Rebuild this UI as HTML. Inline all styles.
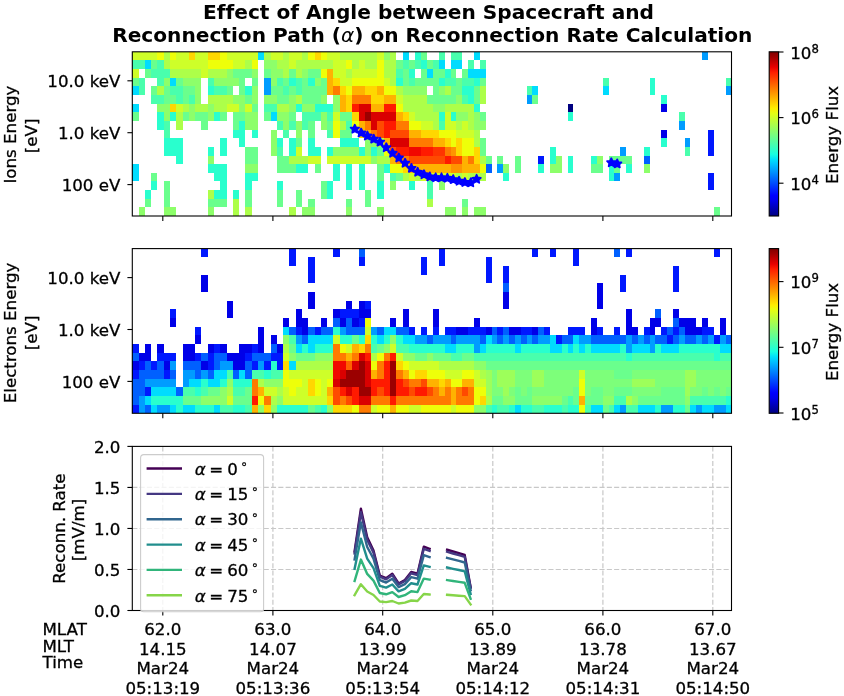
<!DOCTYPE html>
<html><head><meta charset="utf-8"><title>Reconnection Rate</title>
<style>html,body{margin:0;padding:0;background:#fff}body{width:844px;height:696px;overflow:hidden;position:relative}</style></head>
<body>
<svg width="844" height="696" viewBox="0 0 844 696" style="position:absolute;left:0;top:0">
<rect width="844" height="696" fill="#fff"/>
<text x="428.5" y="19.3" text-anchor="middle" font-family="DejaVu Sans, Liberation Sans, sans-serif" font-size="20.14" font-weight="bold" style="font-variant-ligatures:none">Effect of Angle between Spacecraft and</text>
<text x="432.3" y="42.0" text-anchor="middle" font-family="DejaVu Sans, Liberation Sans, sans-serif" font-size="20.14" font-weight="bold" style="font-variant-ligatures:none">Reconnection Path (<tspan font-weight="normal" font-style="italic">α</tspan>) on Reconnection Rate Calculation</text>
<g shape-rendering="crispEdges"><rect x="132" y="52" width="25" height="8" fill="#ceff29"/>
<rect x="157" y="52" width="7" height="8" fill="#eeff09"/>
<rect x="164" y="52" width="6" height="8" fill="#adff49"/>
<rect x="170" y="52" width="6" height="8" fill="#eeff09"/>
<rect x="176" y="52" width="13" height="8" fill="#ceff29"/>
<rect x="189" y="52" width="6" height="8" fill="#ffd700"/>
<rect x="195" y="52" width="13" height="8" fill="#ceff29"/>
<rect x="208" y="52" width="12" height="8" fill="#ffd700"/>
<rect x="220" y="52" width="7" height="8" fill="#eeff09"/>
<rect x="227" y="52" width="31" height="8" fill="#ceff29"/>
<rect x="258" y="52" width="6" height="8" fill="#00dcfe"/>
<rect x="264" y="52" width="7" height="8" fill="#adff49"/>
<rect x="271" y="52" width="12" height="8" fill="#ceff29"/>
<rect x="283" y="52" width="6" height="8" fill="#adff49"/>
<rect x="289" y="52" width="13" height="8" fill="#ceff29"/>
<rect x="302" y="52" width="6" height="8" fill="#adff49"/>
<rect x="308" y="52" width="7" height="8" fill="#eeff09"/>
<rect x="315" y="52" width="6" height="8" fill="#ffd700"/>
<rect x="321" y="52" width="6" height="8" fill="#eeff09"/>
<rect x="327" y="52" width="13" height="8" fill="#ceff29"/>
<rect x="340" y="52" width="37" height="8" fill="#adff49"/>
<rect x="377" y="52" width="7" height="8" fill="#ceff29"/>
<rect x="384" y="52" width="6" height="8" fill="#8dff6a"/>
<rect x="390" y="52" width="6" height="8" fill="#adff49"/>
<rect x="403" y="52" width="6" height="8" fill="#00dcfe"/>
<rect x="415" y="52" width="6" height="8" fill="#29ffce"/>
<rect x="421" y="52" width="6" height="8" fill="#6aff8d"/>
<rect x="439" y="52" width="6" height="8" fill="#49ffad"/>
<rect x="451" y="52" width="11" height="8" fill="#49ffad"/>
<rect x="474" y="52" width="6" height="8" fill="#00dcfe"/>
<rect x="702" y="52" width="6" height="8" fill="#009cff"/>
<rect x="132" y="60" width="13" height="9" fill="#49ffad"/>
<rect x="145" y="60" width="6" height="9" fill="#00dcfe"/>
<rect x="151" y="60" width="6" height="9" fill="#6aff8d"/>
<rect x="157" y="60" width="7" height="9" fill="#49ffad"/>
<rect x="164" y="60" width="6" height="9" fill="#adff49"/>
<rect x="170" y="60" width="38" height="9" fill="#ceff29"/>
<rect x="208" y="60" width="25" height="9" fill="#eeff09"/>
<rect x="233" y="60" width="12" height="9" fill="#ceff29"/>
<rect x="245" y="60" width="7" height="9" fill="#adff49"/>
<rect x="252" y="60" width="6" height="9" fill="#eeff09"/>
<rect x="264" y="60" width="13" height="9" fill="#8dff6a"/>
<rect x="277" y="60" width="12" height="9" fill="#adff49"/>
<rect x="289" y="60" width="7" height="9" fill="#ceff29"/>
<rect x="296" y="60" width="37" height="9" fill="#adff49"/>
<rect x="333" y="60" width="13" height="9" fill="#ceff29"/>
<rect x="346" y="60" width="6" height="9" fill="#eeff09"/>
<rect x="352" y="60" width="7" height="9" fill="#adff49"/>
<rect x="359" y="60" width="6" height="9" fill="#ceff29"/>
<rect x="365" y="60" width="12" height="9" fill="#adff49"/>
<rect x="377" y="60" width="7" height="9" fill="#eeff09"/>
<rect x="384" y="60" width="12" height="9" fill="#adff49"/>
<rect x="396" y="60" width="7" height="9" fill="#6aff8d"/>
<rect x="403" y="60" width="6" height="9" fill="#49ffad"/>
<rect x="409" y="60" width="6" height="9" fill="#6aff8d"/>
<rect x="415" y="60" width="6" height="9" fill="#49ffad"/>
<rect x="421" y="60" width="6" height="9" fill="#29ffce"/>
<rect x="427" y="60" width="6" height="9" fill="#6aff8d"/>
<rect x="433" y="60" width="6" height="9" fill="#49ffad"/>
<rect x="439" y="60" width="6" height="9" fill="#00dcfe"/>
<rect x="451" y="60" width="11" height="9" fill="#00dcfe"/>
<rect x="468" y="60" width="6" height="9" fill="#49ffad"/>
<rect x="480" y="60" width="6" height="9" fill="#49ffad"/>
<rect x="132" y="69" width="7" height="9" fill="#ceff29"/>
<rect x="145" y="69" width="6" height="9" fill="#6aff8d"/>
<rect x="151" y="69" width="19" height="9" fill="#49ffad"/>
<rect x="170" y="69" width="31" height="9" fill="#adff49"/>
<rect x="201" y="69" width="7" height="9" fill="#ceff29"/>
<rect x="208" y="69" width="19" height="9" fill="#adff49"/>
<rect x="227" y="69" width="6" height="9" fill="#8dff6a"/>
<rect x="233" y="69" width="19" height="9" fill="#6aff8d"/>
<rect x="252" y="69" width="6" height="9" fill="#8dff6a"/>
<rect x="264" y="69" width="7" height="9" fill="#6aff8d"/>
<rect x="271" y="69" width="12" height="9" fill="#8dff6a"/>
<rect x="283" y="69" width="6" height="9" fill="#adff49"/>
<rect x="289" y="69" width="7" height="9" fill="#6aff8d"/>
<rect x="296" y="69" width="6" height="9" fill="#adff49"/>
<rect x="302" y="69" width="6" height="9" fill="#8dff6a"/>
<rect x="308" y="69" width="13" height="9" fill="#6aff8d"/>
<rect x="321" y="69" width="6" height="9" fill="#eeff09"/>
<rect x="327" y="69" width="6" height="9" fill="#ffb200"/>
<rect x="333" y="69" width="13" height="9" fill="#ceff29"/>
<rect x="346" y="69" width="6" height="9" fill="#adff49"/>
<rect x="352" y="69" width="25" height="9" fill="#ceff29"/>
<rect x="377" y="69" width="7" height="9" fill="#eeff09"/>
<rect x="384" y="69" width="12" height="9" fill="#adff49"/>
<rect x="396" y="69" width="7" height="9" fill="#49ffad"/>
<rect x="403" y="69" width="6" height="9" fill="#6aff8d"/>
<rect x="409" y="69" width="6" height="9" fill="#29ffce"/>
<rect x="421" y="69" width="6" height="9" fill="#6aff8d"/>
<rect x="427" y="69" width="6" height="9" fill="#00dcfe"/>
<rect x="433" y="69" width="12" height="9" fill="#6aff8d"/>
<rect x="445" y="69" width="6" height="9" fill="#29ffce"/>
<rect x="451" y="69" width="5" height="9" fill="#6aff8d"/>
<rect x="462" y="69" width="6" height="9" fill="#6aff8d"/>
<rect x="468" y="69" width="18" height="9" fill="#00dcfe"/>
<rect x="132" y="78" width="7" height="8" fill="#6aff8d"/>
<rect x="139" y="78" width="6" height="8" fill="#49ffad"/>
<rect x="157" y="78" width="7" height="8" fill="#49ffad"/>
<rect x="164" y="78" width="6" height="8" fill="#8dff6a"/>
<rect x="170" y="78" width="6" height="8" fill="#00dcfe"/>
<rect x="176" y="78" width="7" height="8" fill="#6aff8d"/>
<rect x="183" y="78" width="18" height="8" fill="#8dff6a"/>
<rect x="208" y="78" width="6" height="8" fill="#49ffad"/>
<rect x="214" y="78" width="25" height="8" fill="#8dff6a"/>
<rect x="239" y="78" width="6" height="8" fill="#6aff8d"/>
<rect x="252" y="78" width="6" height="8" fill="#6aff8d"/>
<rect x="264" y="78" width="7" height="8" fill="#009cff"/>
<rect x="271" y="78" width="6" height="8" fill="#8dff6a"/>
<rect x="277" y="78" width="6" height="8" fill="#49ffad"/>
<rect x="283" y="78" width="6" height="8" fill="#6aff8d"/>
<rect x="289" y="78" width="7" height="8" fill="#29ffce"/>
<rect x="296" y="78" width="6" height="8" fill="#49ffad"/>
<rect x="302" y="78" width="6" height="8" fill="#6aff8d"/>
<rect x="308" y="78" width="7" height="8" fill="#29ffce"/>
<rect x="315" y="78" width="6" height="8" fill="#8dff6a"/>
<rect x="321" y="78" width="6" height="8" fill="#6aff8d"/>
<rect x="327" y="78" width="6" height="8" fill="#ffb200"/>
<rect x="333" y="78" width="7" height="8" fill="#ffd700"/>
<rect x="340" y="78" width="12" height="8" fill="#ceff29"/>
<rect x="352" y="78" width="32" height="8" fill="#eeff09"/>
<rect x="384" y="78" width="6" height="8" fill="#ceff29"/>
<rect x="390" y="78" width="6" height="8" fill="#adff49"/>
<rect x="396" y="78" width="7" height="8" fill="#29ffce"/>
<rect x="403" y="78" width="6" height="8" fill="#6aff8d"/>
<rect x="409" y="78" width="6" height="8" fill="#49ffad"/>
<rect x="415" y="78" width="24" height="8" fill="#6aff8d"/>
<rect x="439" y="78" width="6" height="8" fill="#29ffce"/>
<rect x="445" y="78" width="11" height="8" fill="#49ffad"/>
<rect x="456" y="78" width="6" height="8" fill="#6aff8d"/>
<rect x="462" y="78" width="12" height="8" fill="#49ffad"/>
<rect x="474" y="78" width="6" height="8" fill="#29ffce"/>
<rect x="480" y="78" width="6" height="8" fill="#6aff8d"/>
<rect x="603" y="78" width="6" height="8" fill="#49ffad"/>
<rect x="650" y="78" width="5" height="8" fill="#29ffce"/>
<rect x="726" y="78" width="5" height="8" fill="#49ffad"/>
<rect x="132" y="86" width="7" height="9" fill="#00dcfe"/>
<rect x="139" y="86" width="6" height="9" fill="#49ffad"/>
<rect x="151" y="86" width="6" height="9" fill="#6aff8d"/>
<rect x="157" y="86" width="7" height="9" fill="#adff49"/>
<rect x="164" y="86" width="6" height="9" fill="#6aff8d"/>
<rect x="170" y="86" width="13" height="9" fill="#49ffad"/>
<rect x="183" y="86" width="12" height="9" fill="#6aff8d"/>
<rect x="195" y="86" width="6" height="9" fill="#8dff6a"/>
<rect x="208" y="86" width="6" height="9" fill="#29ffce"/>
<rect x="214" y="86" width="13" height="9" fill="#49ffad"/>
<rect x="227" y="86" width="6" height="9" fill="#6aff8d"/>
<rect x="239" y="86" width="6" height="9" fill="#6aff8d"/>
<rect x="245" y="86" width="7" height="9" fill="#29ffce"/>
<rect x="252" y="86" width="6" height="9" fill="#8dff6a"/>
<rect x="264" y="86" width="7" height="9" fill="#009cff"/>
<rect x="271" y="86" width="12" height="9" fill="#6aff8d"/>
<rect x="283" y="86" width="6" height="9" fill="#49ffad"/>
<rect x="289" y="86" width="7" height="9" fill="#6aff8d"/>
<rect x="296" y="86" width="6" height="9" fill="#49ffad"/>
<rect x="302" y="86" width="25" height="9" fill="#6aff8d"/>
<rect x="327" y="86" width="6" height="9" fill="#ffb200"/>
<rect x="333" y="86" width="7" height="9" fill="#ff7a00"/>
<rect x="340" y="86" width="6" height="9" fill="#ffd700"/>
<rect x="346" y="86" width="6" height="9" fill="#eeff09"/>
<rect x="352" y="86" width="13" height="9" fill="#ffb200"/>
<rect x="365" y="86" width="12" height="9" fill="#ffd700"/>
<rect x="377" y="86" width="7" height="9" fill="#ffb200"/>
<rect x="384" y="86" width="12" height="9" fill="#eeff09"/>
<rect x="396" y="86" width="7" height="9" fill="#adff49"/>
<rect x="403" y="86" width="24" height="9" fill="#8dff6a"/>
<rect x="433" y="86" width="6" height="9" fill="#6aff8d"/>
<rect x="439" y="86" width="6" height="9" fill="#8dff6a"/>
<rect x="445" y="86" width="6" height="9" fill="#adff49"/>
<rect x="451" y="86" width="11" height="9" fill="#6aff8d"/>
<rect x="462" y="86" width="12" height="9" fill="#29ffce"/>
<rect x="474" y="86" width="6" height="9" fill="#6aff8d"/>
<rect x="480" y="86" width="6" height="9" fill="#adff49"/>
<rect x="527" y="86" width="5" height="9" fill="#49ffad"/>
<rect x="532" y="86" width="6" height="9" fill="#00dcfe"/>
<rect x="603" y="86" width="6" height="9" fill="#00dcfe"/>
<rect x="650" y="86" width="5" height="9" fill="#29ffce"/>
<rect x="726" y="86" width="5" height="9" fill="#009cff"/>
<rect x="151" y="95" width="13" height="9" fill="#49ffad"/>
<rect x="164" y="95" width="12" height="9" fill="#6aff8d"/>
<rect x="176" y="95" width="7" height="9" fill="#49ffad"/>
<rect x="183" y="95" width="6" height="9" fill="#6aff8d"/>
<rect x="189" y="95" width="6" height="9" fill="#49ffad"/>
<rect x="195" y="95" width="6" height="9" fill="#8dff6a"/>
<rect x="208" y="95" width="25" height="9" fill="#adff49"/>
<rect x="233" y="95" width="12" height="9" fill="#8dff6a"/>
<rect x="245" y="95" width="7" height="9" fill="#6aff8d"/>
<rect x="252" y="95" width="6" height="9" fill="#8dff6a"/>
<rect x="264" y="95" width="13" height="9" fill="#8dff6a"/>
<rect x="277" y="95" width="12" height="9" fill="#6aff8d"/>
<rect x="289" y="95" width="7" height="9" fill="#8dff6a"/>
<rect x="296" y="95" width="6" height="9" fill="#adff49"/>
<rect x="302" y="95" width="19" height="9" fill="#6aff8d"/>
<rect x="321" y="95" width="6" height="9" fill="#8dff6a"/>
<rect x="333" y="95" width="7" height="9" fill="#8dff6a"/>
<rect x="340" y="95" width="6" height="9" fill="#ffb200"/>
<rect x="346" y="95" width="6" height="9" fill="#ffd700"/>
<rect x="352" y="95" width="19" height="9" fill="#ff7a00"/>
<rect x="371" y="95" width="13" height="9" fill="#ffd700"/>
<rect x="384" y="95" width="12" height="9" fill="#ffb200"/>
<rect x="396" y="95" width="7" height="9" fill="#ceff29"/>
<rect x="403" y="95" width="24" height="9" fill="#adff49"/>
<rect x="427" y="95" width="29" height="9" fill="#6aff8d"/>
<rect x="456" y="95" width="6" height="9" fill="#8dff6a"/>
<rect x="462" y="95" width="6" height="9" fill="#49ffad"/>
<rect x="468" y="95" width="6" height="9" fill="#29ffce"/>
<rect x="474" y="95" width="6" height="9" fill="#6aff8d"/>
<rect x="480" y="95" width="6" height="9" fill="#adff49"/>
<rect x="527" y="95" width="5" height="9" fill="#009cff"/>
<rect x="532" y="95" width="6" height="9" fill="#6aff8d"/>
<rect x="661" y="95" width="6" height="9" fill="#29ffce"/>
<rect x="132" y="104" width="7" height="8" fill="#00dcfe"/>
<rect x="157" y="104" width="13" height="8" fill="#8dff6a"/>
<rect x="170" y="104" width="6" height="8" fill="#ffd700"/>
<rect x="176" y="104" width="7" height="8" fill="#ceff29"/>
<rect x="183" y="104" width="6" height="8" fill="#adff49"/>
<rect x="189" y="104" width="6" height="8" fill="#8dff6a"/>
<rect x="195" y="104" width="13" height="8" fill="#adff49"/>
<rect x="208" y="104" width="6" height="8" fill="#8dff6a"/>
<rect x="214" y="104" width="13" height="8" fill="#adff49"/>
<rect x="227" y="104" width="12" height="8" fill="#ceff29"/>
<rect x="239" y="104" width="6" height="8" fill="#8dff6a"/>
<rect x="245" y="104" width="7" height="8" fill="#ceff29"/>
<rect x="252" y="104" width="6" height="8" fill="#6aff8d"/>
<rect x="264" y="104" width="13" height="8" fill="#49ffad"/>
<rect x="277" y="104" width="12" height="8" fill="#adff49"/>
<rect x="289" y="104" width="7" height="8" fill="#8dff6a"/>
<rect x="296" y="104" width="6" height="8" fill="#29ffce"/>
<rect x="302" y="104" width="13" height="8" fill="#8dff6a"/>
<rect x="315" y="104" width="18" height="8" fill="#29ffce"/>
<rect x="333" y="104" width="7" height="8" fill="#8dff6a"/>
<rect x="340" y="104" width="6" height="8" fill="#ffb200"/>
<rect x="346" y="104" width="6" height="8" fill="#ffd700"/>
<rect x="352" y="104" width="7" height="8" fill="#ff1a00"/>
<rect x="359" y="104" width="12" height="8" fill="#da0000"/>
<rect x="371" y="104" width="13" height="8" fill="#ffb200"/>
<rect x="384" y="104" width="12" height="8" fill="#ff1a00"/>
<rect x="396" y="104" width="7" height="8" fill="#eeff09"/>
<rect x="403" y="104" width="30" height="8" fill="#adff49"/>
<rect x="433" y="104" width="12" height="8" fill="#8dff6a"/>
<rect x="445" y="104" width="29" height="8" fill="#adff49"/>
<rect x="474" y="104" width="6" height="8" fill="#29ffce"/>
<rect x="568" y="104" width="5" height="8" fill="#000080"/>
<rect x="661" y="104" width="6" height="8" fill="#0000e8"/>
<rect x="132" y="112" width="7" height="9" fill="#6aff8d"/>
<rect x="157" y="112" width="7" height="9" fill="#29ffce"/>
<rect x="164" y="112" width="6" height="9" fill="#8dff6a"/>
<rect x="170" y="112" width="6" height="9" fill="#29ffce"/>
<rect x="176" y="112" width="7" height="9" fill="#adff49"/>
<rect x="183" y="112" width="6" height="9" fill="#6aff8d"/>
<rect x="189" y="112" width="6" height="9" fill="#8dff6a"/>
<rect x="195" y="112" width="13" height="9" fill="#6aff8d"/>
<rect x="208" y="112" width="6" height="9" fill="#8dff6a"/>
<rect x="214" y="112" width="6" height="9" fill="#29ffce"/>
<rect x="220" y="112" width="7" height="9" fill="#6aff8d"/>
<rect x="233" y="112" width="12" height="9" fill="#6aff8d"/>
<rect x="245" y="112" width="13" height="9" fill="#8dff6a"/>
<rect x="264" y="112" width="7" height="9" fill="#6aff8d"/>
<rect x="271" y="112" width="6" height="9" fill="#00dcfe"/>
<rect x="277" y="112" width="12" height="9" fill="#8dff6a"/>
<rect x="289" y="112" width="7" height="9" fill="#6aff8d"/>
<rect x="302" y="112" width="19" height="9" fill="#49ffad"/>
<rect x="321" y="112" width="6" height="9" fill="#8dff6a"/>
<rect x="327" y="112" width="6" height="9" fill="#49ffad"/>
<rect x="333" y="112" width="7" height="9" fill="#ceff29"/>
<rect x="340" y="112" width="12" height="9" fill="#6aff8d"/>
<rect x="352" y="112" width="7" height="9" fill="#ffd700"/>
<rect x="359" y="112" width="6" height="9" fill="#da0000"/>
<rect x="365" y="112" width="6" height="9" fill="#9b0000"/>
<rect x="371" y="112" width="25" height="9" fill="#da0000"/>
<rect x="396" y="112" width="7" height="9" fill="#ffb200"/>
<rect x="403" y="112" width="6" height="9" fill="#ffd700"/>
<rect x="409" y="112" width="6" height="9" fill="#ceff29"/>
<rect x="415" y="112" width="24" height="9" fill="#adff49"/>
<rect x="439" y="112" width="6" height="9" fill="#29ffce"/>
<rect x="445" y="112" width="6" height="9" fill="#ceff29"/>
<rect x="451" y="112" width="5" height="9" fill="#29ffce"/>
<rect x="456" y="112" width="12" height="9" fill="#8dff6a"/>
<rect x="468" y="112" width="6" height="9" fill="#adff49"/>
<rect x="474" y="112" width="6" height="9" fill="#8dff6a"/>
<rect x="480" y="112" width="6" height="9" fill="#6aff8d"/>
<rect x="568" y="112" width="5" height="9" fill="#29ffce"/>
<rect x="679" y="112" width="6" height="9" fill="#49ffad"/>
<rect x="157" y="121" width="7" height="9" fill="#29ffce"/>
<rect x="164" y="121" width="6" height="9" fill="#49ffad"/>
<rect x="176" y="121" width="7" height="9" fill="#adff49"/>
<rect x="201" y="121" width="7" height="9" fill="#6aff8d"/>
<rect x="233" y="121" width="6" height="9" fill="#6aff8d"/>
<rect x="239" y="121" width="6" height="9" fill="#29ffce"/>
<rect x="245" y="121" width="13" height="9" fill="#8dff6a"/>
<rect x="277" y="121" width="6" height="9" fill="#49ffad"/>
<rect x="283" y="121" width="6" height="9" fill="#8dff6a"/>
<rect x="289" y="121" width="7" height="9" fill="#49ffad"/>
<rect x="296" y="121" width="6" height="9" fill="#8dff6a"/>
<rect x="302" y="121" width="6" height="9" fill="#49ffad"/>
<rect x="308" y="121" width="7" height="9" fill="#6aff8d"/>
<rect x="321" y="121" width="6" height="9" fill="#8dff6a"/>
<rect x="327" y="121" width="6" height="9" fill="#6aff8d"/>
<rect x="333" y="121" width="7" height="9" fill="#eeff09"/>
<rect x="340" y="121" width="6" height="9" fill="#adff49"/>
<rect x="346" y="121" width="6" height="9" fill="#49ffad"/>
<rect x="352" y="121" width="7" height="9" fill="#eeff09"/>
<rect x="359" y="121" width="6" height="9" fill="#ffb200"/>
<rect x="365" y="121" width="6" height="9" fill="#ff7a00"/>
<rect x="371" y="121" width="6" height="9" fill="#da0000"/>
<rect x="377" y="121" width="7" height="9" fill="#ff4a00"/>
<rect x="384" y="121" width="12" height="9" fill="#ff1a00"/>
<rect x="396" y="121" width="13" height="9" fill="#ff7a00"/>
<rect x="409" y="121" width="12" height="9" fill="#eeff09"/>
<rect x="421" y="121" width="12" height="9" fill="#ceff29"/>
<rect x="433" y="121" width="6" height="9" fill="#adff49"/>
<rect x="439" y="121" width="6" height="9" fill="#49ffad"/>
<rect x="445" y="121" width="11" height="9" fill="#ceff29"/>
<rect x="456" y="121" width="6" height="9" fill="#adff49"/>
<rect x="462" y="121" width="6" height="9" fill="#ceff29"/>
<rect x="468" y="121" width="6" height="9" fill="#adff49"/>
<rect x="474" y="121" width="12" height="9" fill="#8dff6a"/>
<rect x="679" y="121" width="6" height="9" fill="#009cff"/>
<rect x="164" y="130" width="6" height="8" fill="#49ffad"/>
<rect x="233" y="130" width="12" height="8" fill="#29ffce"/>
<rect x="252" y="130" width="6" height="8" fill="#29ffce"/>
<rect x="271" y="130" width="6" height="8" fill="#8dff6a"/>
<rect x="283" y="130" width="6" height="8" fill="#49ffad"/>
<rect x="296" y="130" width="6" height="8" fill="#8dff6a"/>
<rect x="308" y="130" width="7" height="8" fill="#6aff8d"/>
<rect x="327" y="130" width="6" height="8" fill="#49ffad"/>
<rect x="333" y="130" width="7" height="8" fill="#eeff09"/>
<rect x="340" y="130" width="12" height="8" fill="#6aff8d"/>
<rect x="359" y="130" width="6" height="8" fill="#ffd700"/>
<rect x="365" y="130" width="6" height="8" fill="#ffb200"/>
<rect x="371" y="130" width="6" height="8" fill="#ff7a00"/>
<rect x="377" y="130" width="7" height="8" fill="#ff4a00"/>
<rect x="384" y="130" width="6" height="8" fill="#ff1a00"/>
<rect x="390" y="130" width="19" height="8" fill="#ff4a00"/>
<rect x="409" y="130" width="12" height="8" fill="#ffb200"/>
<rect x="421" y="130" width="18" height="8" fill="#ffd700"/>
<rect x="439" y="130" width="17" height="8" fill="#eeff09"/>
<rect x="456" y="130" width="18" height="8" fill="#ceff29"/>
<rect x="474" y="130" width="6" height="8" fill="#adff49"/>
<rect x="661" y="130" width="6" height="8" fill="#0000e8"/>
<rect x="708" y="130" width="6" height="8" fill="#0018ff"/>
<rect x="164" y="138" width="19" height="9" fill="#29ffce"/>
<rect x="220" y="138" width="7" height="9" fill="#29ffce"/>
<rect x="239" y="138" width="6" height="9" fill="#29ffce"/>
<rect x="271" y="138" width="6" height="9" fill="#8dff6a"/>
<rect x="277" y="138" width="6" height="9" fill="#29ffce"/>
<rect x="289" y="138" width="7" height="9" fill="#29ffce"/>
<rect x="296" y="138" width="6" height="9" fill="#6aff8d"/>
<rect x="308" y="138" width="7" height="9" fill="#29ffce"/>
<rect x="340" y="138" width="19" height="9" fill="#29ffce"/>
<rect x="365" y="138" width="12" height="9" fill="#8dff6a"/>
<rect x="377" y="138" width="7" height="9" fill="#adff49"/>
<rect x="384" y="138" width="6" height="9" fill="#ffb200"/>
<rect x="390" y="138" width="19" height="9" fill="#da0000"/>
<rect x="409" y="138" width="24" height="9" fill="#ff7a00"/>
<rect x="433" y="138" width="12" height="9" fill="#ffb200"/>
<rect x="445" y="138" width="6" height="9" fill="#ffd700"/>
<rect x="451" y="138" width="5" height="9" fill="#eeff09"/>
<rect x="456" y="138" width="6" height="9" fill="#ffd700"/>
<rect x="462" y="138" width="12" height="9" fill="#eeff09"/>
<rect x="474" y="138" width="6" height="9" fill="#adff49"/>
<rect x="480" y="138" width="6" height="9" fill="#6aff8d"/>
<rect x="661" y="138" width="6" height="9" fill="#29ffce"/>
<rect x="685" y="138" width="5" height="9" fill="#009cff"/>
<rect x="708" y="138" width="6" height="9" fill="#0018ff"/>
<rect x="164" y="147" width="19" height="9" fill="#29ffce"/>
<rect x="208" y="147" width="6" height="9" fill="#29ffce"/>
<rect x="220" y="147" width="7" height="9" fill="#29ffce"/>
<rect x="245" y="147" width="13" height="9" fill="#6aff8d"/>
<rect x="271" y="147" width="6" height="9" fill="#8dff6a"/>
<rect x="277" y="147" width="6" height="9" fill="#49ffad"/>
<rect x="289" y="147" width="7" height="9" fill="#29ffce"/>
<rect x="296" y="147" width="6" height="9" fill="#ceff29"/>
<rect x="308" y="147" width="13" height="9" fill="#29ffce"/>
<rect x="327" y="147" width="6" height="9" fill="#29ffce"/>
<rect x="333" y="147" width="26" height="9" fill="#8dff6a"/>
<rect x="359" y="147" width="6" height="9" fill="#29ffce"/>
<rect x="365" y="147" width="6" height="9" fill="#8dff6a"/>
<rect x="371" y="147" width="6" height="9" fill="#29ffce"/>
<rect x="377" y="147" width="7" height="9" fill="#6aff8d"/>
<rect x="384" y="147" width="6" height="9" fill="#eeff09"/>
<rect x="390" y="147" width="6" height="9" fill="#ff4a00"/>
<rect x="396" y="147" width="13" height="9" fill="#ff1a00"/>
<rect x="409" y="147" width="12" height="9" fill="#f10800"/>
<rect x="421" y="147" width="12" height="9" fill="#ff1a00"/>
<rect x="433" y="147" width="12" height="9" fill="#ff3400"/>
<rect x="445" y="147" width="6" height="9" fill="#ff7a00"/>
<rect x="451" y="147" width="5" height="9" fill="#ff9400"/>
<rect x="456" y="147" width="6" height="9" fill="#ffd700"/>
<rect x="462" y="147" width="12" height="9" fill="#eeff09"/>
<rect x="474" y="147" width="6" height="9" fill="#ffd700"/>
<rect x="480" y="147" width="6" height="9" fill="#6aff8d"/>
<rect x="550" y="147" width="6" height="9" fill="#29ffce"/>
<rect x="620" y="147" width="6" height="9" fill="#009cff"/>
<rect x="644" y="147" width="6" height="9" fill="#29ffce"/>
<rect x="685" y="147" width="5" height="9" fill="#49ffad"/>
<rect x="708" y="147" width="6" height="9" fill="#0018ff"/>
<rect x="176" y="156" width="7" height="8" fill="#29ffce"/>
<rect x="208" y="156" width="6" height="8" fill="#8dff6a"/>
<rect x="245" y="156" width="13" height="8" fill="#6aff8d"/>
<rect x="277" y="156" width="12" height="8" fill="#6aff8d"/>
<rect x="289" y="156" width="19" height="8" fill="#adff49"/>
<rect x="308" y="156" width="13" height="8" fill="#ceff29"/>
<rect x="327" y="156" width="44" height="8" fill="#ceff29"/>
<rect x="371" y="156" width="6" height="8" fill="#8dff6a"/>
<rect x="377" y="156" width="13" height="8" fill="#adff49"/>
<rect x="390" y="156" width="6" height="8" fill="#ffb200"/>
<rect x="396" y="156" width="13" height="8" fill="#ff7a00"/>
<rect x="409" y="156" width="36" height="8" fill="#ff4a00"/>
<rect x="445" y="156" width="6" height="8" fill="#ff1a00"/>
<rect x="451" y="156" width="11" height="8" fill="#ff4a00"/>
<rect x="462" y="156" width="6" height="8" fill="#ffb200"/>
<rect x="468" y="156" width="6" height="8" fill="#ff7a00"/>
<rect x="474" y="156" width="6" height="8" fill="#ffd700"/>
<rect x="480" y="156" width="6" height="8" fill="#adff49"/>
<rect x="486" y="156" width="6" height="8" fill="#6aff8d"/>
<rect x="497" y="156" width="6" height="8" fill="#6aff8d"/>
<rect x="515" y="156" width="6" height="8" fill="#6aff8d"/>
<rect x="538" y="156" width="6" height="8" fill="#0018ff"/>
<rect x="550" y="156" width="6" height="8" fill="#29ffce"/>
<rect x="556" y="156" width="6" height="8" fill="#8dff6a"/>
<rect x="568" y="156" width="5" height="8" fill="#29ffce"/>
<rect x="591" y="156" width="6" height="8" fill="#29ffce"/>
<rect x="597" y="156" width="6" height="8" fill="#8dff6a"/>
<rect x="609" y="156" width="23" height="8" fill="#6aff8d"/>
<rect x="644" y="156" width="6" height="8" fill="#0060ff"/>
<rect x="132" y="164" width="7" height="9" fill="#00dcfe"/>
<rect x="208" y="164" width="19" height="9" fill="#29ffce"/>
<rect x="245" y="164" width="13" height="9" fill="#8dff6a"/>
<rect x="277" y="164" width="19" height="9" fill="#6aff8d"/>
<rect x="296" y="164" width="12" height="9" fill="#29ffce"/>
<rect x="315" y="164" width="6" height="9" fill="#6aff8d"/>
<rect x="333" y="164" width="7" height="9" fill="#29ffce"/>
<rect x="346" y="164" width="6" height="9" fill="#29ffce"/>
<rect x="359" y="164" width="6" height="9" fill="#29ffce"/>
<rect x="377" y="164" width="7" height="9" fill="#6aff8d"/>
<rect x="384" y="164" width="6" height="9" fill="#29ffce"/>
<rect x="390" y="164" width="13" height="9" fill="#eeff09"/>
<rect x="403" y="164" width="6" height="9" fill="#ffd700"/>
<rect x="409" y="164" width="42" height="9" fill="#ffb200"/>
<rect x="451" y="164" width="11" height="9" fill="#ff9400"/>
<rect x="462" y="164" width="18" height="9" fill="#ffb200"/>
<rect x="480" y="164" width="6" height="9" fill="#eeff09"/>
<rect x="486" y="164" width="6" height="9" fill="#0060ff"/>
<rect x="497" y="164" width="6" height="9" fill="#009cff"/>
<rect x="503" y="164" width="6" height="9" fill="#8dff6a"/>
<rect x="515" y="164" width="6" height="9" fill="#6aff8d"/>
<rect x="538" y="164" width="6" height="9" fill="#29ffce"/>
<rect x="550" y="164" width="12" height="9" fill="#8dff6a"/>
<rect x="568" y="164" width="5" height="9" fill="#29ffce"/>
<rect x="591" y="164" width="12" height="9" fill="#6aff8d"/>
<rect x="609" y="164" width="5" height="9" fill="#29ffce"/>
<rect x="614" y="164" width="6" height="9" fill="#6aff8d"/>
<rect x="626" y="164" width="6" height="9" fill="#29ffce"/>
<rect x="644" y="164" width="6" height="9" fill="#8dff6a"/>
<rect x="132" y="173" width="7" height="8" fill="#00dcfe"/>
<rect x="151" y="173" width="6" height="8" fill="#6aff8d"/>
<rect x="214" y="173" width="13" height="8" fill="#29ffce"/>
<rect x="245" y="173" width="13" height="8" fill="#29ffce"/>
<rect x="333" y="173" width="7" height="8" fill="#29ffce"/>
<rect x="346" y="173" width="6" height="8" fill="#29ffce"/>
<rect x="359" y="173" width="6" height="8" fill="#29ffce"/>
<rect x="377" y="173" width="7" height="8" fill="#6aff8d"/>
<rect x="390" y="173" width="6" height="8" fill="#49ffad"/>
<rect x="396" y="173" width="7" height="8" fill="#6aff8d"/>
<rect x="403" y="173" width="6" height="8" fill="#adff49"/>
<rect x="409" y="173" width="6" height="8" fill="#ceff29"/>
<rect x="415" y="173" width="6" height="8" fill="#adff49"/>
<rect x="421" y="173" width="35" height="8" fill="#ceff29"/>
<rect x="456" y="173" width="6" height="8" fill="#adff49"/>
<rect x="462" y="173" width="6" height="8" fill="#ceff29"/>
<rect x="468" y="173" width="18" height="8" fill="#adff49"/>
<rect x="503" y="173" width="6" height="8" fill="#29ffce"/>
<rect x="609" y="173" width="5" height="8" fill="#29ffce"/>
<rect x="614" y="173" width="6" height="8" fill="#009cff"/>
<rect x="708" y="173" width="6" height="8" fill="#0018ff"/>
<rect x="151" y="181" width="6" height="9" fill="#29ffce"/>
<rect x="164" y="181" width="6" height="9" fill="#6aff8d"/>
<rect x="220" y="181" width="7" height="9" fill="#29ffce"/>
<rect x="245" y="181" width="7" height="9" fill="#29ffce"/>
<rect x="277" y="181" width="6" height="9" fill="#29ffce"/>
<rect x="321" y="181" width="6" height="9" fill="#6aff8d"/>
<rect x="327" y="181" width="6" height="9" fill="#29ffce"/>
<rect x="346" y="181" width="6" height="9" fill="#29ffce"/>
<rect x="359" y="181" width="6" height="9" fill="#29ffce"/>
<rect x="377" y="181" width="7" height="9" fill="#29ffce"/>
<rect x="390" y="181" width="6" height="9" fill="#8dff6a"/>
<rect x="409" y="181" width="6" height="9" fill="#29ffce"/>
<rect x="427" y="181" width="6" height="9" fill="#49ffad"/>
<rect x="439" y="181" width="6" height="9" fill="#8dff6a"/>
<rect x="708" y="181" width="6" height="9" fill="#0018ff"/>
<rect x="145" y="190" width="6" height="9" fill="#29ffce"/>
<rect x="164" y="190" width="6" height="9" fill="#6aff8d"/>
<rect x="208" y="190" width="6" height="9" fill="#adff49"/>
<rect x="214" y="190" width="13" height="9" fill="#29ffce"/>
<rect x="233" y="190" width="6" height="9" fill="#29ffce"/>
<rect x="245" y="190" width="7" height="9" fill="#6aff8d"/>
<rect x="277" y="190" width="6" height="9" fill="#6aff8d"/>
<rect x="296" y="190" width="6" height="9" fill="#6aff8d"/>
<rect x="321" y="190" width="6" height="9" fill="#6aff8d"/>
<rect x="327" y="190" width="6" height="9" fill="#29ffce"/>
<rect x="365" y="190" width="6" height="9" fill="#6aff8d"/>
<rect x="377" y="190" width="7" height="9" fill="#29ffce"/>
<rect x="427" y="190" width="6" height="9" fill="#49ffad"/>
<rect x="145" y="199" width="6" height="8" fill="#6aff8d"/>
<rect x="164" y="199" width="6" height="8" fill="#6aff8d"/>
<rect x="208" y="199" width="19" height="8" fill="#6aff8d"/>
<rect x="233" y="199" width="6" height="8" fill="#adff49"/>
<rect x="245" y="199" width="7" height="8" fill="#6aff8d"/>
<rect x="277" y="199" width="6" height="8" fill="#6aff8d"/>
<rect x="296" y="199" width="6" height="8" fill="#6aff8d"/>
<rect x="308" y="199" width="7" height="8" fill="#6aff8d"/>
<rect x="346" y="199" width="6" height="8" fill="#6aff8d"/>
<rect x="365" y="199" width="6" height="8" fill="#6aff8d"/>
<rect x="427" y="199" width="6" height="8" fill="#adff49"/>
<rect x="462" y="199" width="6" height="8" fill="#6aff8d"/>
<rect x="139" y="207" width="6" height="9" fill="#8dff6a"/>
<rect x="164" y="207" width="12" height="9" fill="#8dff6a"/>
<rect x="208" y="207" width="6" height="9" fill="#8dff6a"/>
<rect x="233" y="207" width="6" height="9" fill="#adff49"/>
<rect x="245" y="207" width="7" height="9" fill="#adff49"/>
<rect x="289" y="207" width="7" height="9" fill="#adff49"/>
<rect x="302" y="207" width="13" height="9" fill="#8dff6a"/>
<rect x="346" y="207" width="6" height="9" fill="#8dff6a"/>
<rect x="377" y="207" width="7" height="9" fill="#8dff6a"/>
<rect x="445" y="207" width="11" height="9" fill="#8dff6a"/>
<rect x="462" y="207" width="6" height="9" fill="#8dff6a"/>
<rect x="474" y="207" width="12" height="9" fill="#8dff6a"/>
<rect x="714" y="207" width="6" height="9" fill="#6aff8d"/></g>
<path d="M354.8 124.7L356.1 127.3L359.0 127.7L356.8 129.7L357.4 132.6L354.8 131.2L352.3 132.6L352.8 129.7L350.7 127.7L353.6 127.3Z M361.1 128.5L362.4 131.2L365.3 131.5L363.1 133.6L363.7 136.5L361.1 135.0L358.5 136.5L359.1 133.6L356.9 131.5L359.9 131.2Z M367.4 131.5L368.6 134.2L371.6 134.6L369.4 136.6L370.0 139.5L367.4 138.1L364.8 139.5L365.4 136.6L363.2 134.6L366.2 134.2Z M373.7 134.6L374.9 137.3L377.9 137.6L375.7 139.7L376.3 142.6L373.7 141.1L371.1 142.6L371.7 139.7L369.5 137.6L372.4 137.3Z M380.0 137.6L381.2 140.3L384.2 140.6L382.0 142.7L382.6 145.6L380.0 144.1L377.4 145.6L378.0 142.7L375.8 140.6L378.7 140.3Z M386.3 143.2L387.5 145.9L390.4 146.2L388.3 148.3L388.8 151.2L386.3 149.7L383.7 151.2L384.2 148.3L382.1 146.2L385.0 145.9Z M392.5 148.8L393.8 151.5L396.7 151.8L394.5 153.9L395.1 156.8L392.5 155.3L390.0 156.8L390.5 153.9L388.4 151.8L391.3 151.5Z M398.8 153.5L400.1 156.2L403.0 156.5L400.8 158.6L401.4 161.5L398.8 160.0L396.2 161.5L396.8 158.6L394.6 156.5L397.6 156.2Z M405.1 158.7L406.3 161.4L409.3 161.7L407.1 163.8L407.7 166.7L405.1 165.2L402.5 166.7L403.1 163.8L400.9 161.7L403.9 161.4Z M411.4 163.9L412.6 166.6L415.6 166.9L413.4 169.0L414.0 171.9L411.4 170.4L408.8 171.9L409.4 169.0L407.2 166.9L410.1 166.6Z M417.7 167.8L418.9 170.5L421.9 170.8L419.7 172.9L420.3 175.8L417.7 174.3L415.1 175.8L415.7 172.9L413.5 170.8L416.4 170.5Z M424.0 170.2L425.2 172.9L428.1 173.3L426.0 175.3L426.5 178.2L424.0 176.8L421.4 178.2L421.9 175.3L419.8 173.3L422.7 172.9Z M429.8 172.4L431.0 175.1L434.0 175.4L431.8 177.5L432.4 180.4L429.8 178.9L427.2 180.4L427.8 177.5L425.6 175.4L428.6 175.1Z M435.7 173.3L436.9 176.0L439.8 176.3L437.7 178.4L438.2 181.3L435.7 179.8L433.1 181.3L433.6 178.4L431.5 176.3L434.4 176.0Z M441.5 173.3L442.7 176.0L445.7 176.4L443.5 178.4L444.1 181.3L441.5 179.9L438.9 181.3L439.5 178.4L437.3 176.4L440.3 176.0Z M447.4 173.8L448.6 176.5L451.5 176.8L449.4 178.9L449.9 181.8L447.4 180.3L444.8 181.8L445.3 178.9L443.2 176.8L446.1 176.5Z M453.2 175.1L454.4 177.8L457.4 178.1L455.2 180.2L455.8 183.1L453.2 181.6L450.6 183.1L451.2 180.2L449.0 178.1L452.0 177.8Z M459.1 176.7L460.3 179.4L463.2 179.7L461.1 181.8L461.6 184.7L459.1 183.2L456.5 184.7L457.0 181.8L454.9 179.7L457.8 179.4Z M464.9 178.0L466.1 180.7L469.1 181.0L466.9 183.1L467.5 186.0L464.9 184.5L462.3 186.0L462.9 183.1L460.7 181.0L463.7 180.7Z M470.8 178.3L472.0 181.0L474.9 181.4L472.8 183.4L473.3 186.3L470.8 184.9L468.2 186.3L468.7 183.4L466.6 181.4L469.5 181.0Z M476.6 174.8L477.8 177.5L480.8 177.8L478.6 179.9L479.2 182.8L476.6 181.3L474.0 182.8L474.6 179.9L472.4 177.8L475.4 177.5Z M611.3 158.2L612.5 160.9L615.5 161.2L613.3 163.3L613.9 166.2L611.3 164.7L608.7 166.2L609.3 163.3L607.1 161.2L610.1 160.9Z M617.2 159.4L618.4 162.1L621.4 162.4L619.2 164.5L619.8 167.4L617.2 165.9L614.6 167.4L615.2 164.5L613.0 162.4L616.0 162.1Z" fill="#0000ff" stroke="#0000ff" stroke-width="1.8" stroke-linejoin="round"/>
<rect x="132.3" y="51.8" width="599.2" height="164.2" fill="none" stroke="#000" stroke-width="1.1"/>
<line x1="162.8" x2="162.8" y1="216.0" y2="220.9" stroke="#000" stroke-width="1.1"/><line x1="272.9" x2="272.9" y1="216.0" y2="220.9" stroke="#000" stroke-width="1.1"/><line x1="382.7" x2="382.7" y1="216.0" y2="220.9" stroke="#000" stroke-width="1.1"/><line x1="492.8" x2="492.8" y1="216.0" y2="220.9" stroke="#000" stroke-width="1.1"/><line x1="602.9" x2="602.9" y1="216.0" y2="220.9" stroke="#000" stroke-width="1.1"/><line x1="712.8" x2="712.8" y1="216.0" y2="220.9" stroke="#000" stroke-width="1.1"/>
<line x1="127.4" x2="132.3" y1="80.8" y2="80.8" stroke="#000" stroke-width="1.1"/><text x="120.4" y="87.3" text-anchor="end" font-family="DejaVu Sans, Liberation Sans, sans-serif" stroke="#000" stroke-width="0.3" font-size="16.67">10.0 keV</text><line x1="127.4" x2="132.3" y1="132.7" y2="132.7" stroke="#000" stroke-width="1.1"/><text x="120.4" y="139.2" text-anchor="end" font-family="DejaVu Sans, Liberation Sans, sans-serif" stroke="#000" stroke-width="0.3" font-size="16.67">1.0 keV</text><line x1="127.4" x2="132.3" y1="184.6" y2="184.6" stroke="#000" stroke-width="1.1"/><text x="120.4" y="191.1" text-anchor="end" font-family="DejaVu Sans, Liberation Sans, sans-serif" stroke="#000" stroke-width="0.3" font-size="16.67">100 eV</text>
<text transform="translate(15.6,134.6) rotate(-90)" text-anchor="middle" font-family="DejaVu Sans, Liberation Sans, sans-serif" stroke="#000" stroke-width="0.3" font-size="16.67">Ions Energy</text><text transform="translate(37.2,135.9) rotate(-90)" text-anchor="middle" font-family="DejaVu Sans, Liberation Sans, sans-serif" stroke="#000" stroke-width="0.3" font-size="16.67">[eV]</text>
<defs><linearGradient id="jet1" x1="0" y1="0" x2="0" y2="1"><stop offset="0.0000" stop-color="#800000"/><stop offset="0.0312" stop-color="#9f0000"/><stop offset="0.0625" stop-color="#c40000"/><stop offset="0.0938" stop-color="#e80000"/><stop offset="0.1250" stop-color="#ff1e00"/><stop offset="0.1562" stop-color="#ff3b00"/><stop offset="0.1875" stop-color="#ff5900"/><stop offset="0.2188" stop-color="#ff7700"/><stop offset="0.2500" stop-color="#ff9400"/><stop offset="0.2812" stop-color="#ffb200"/><stop offset="0.3125" stop-color="#ffd000"/><stop offset="0.3438" stop-color="#feed00"/><stop offset="0.3750" stop-color="#e4ff13"/><stop offset="0.4062" stop-color="#caff2c"/><stop offset="0.4375" stop-color="#b1ff46"/><stop offset="0.4688" stop-color="#97ff60"/><stop offset="0.5000" stop-color="#7dff7a"/><stop offset="0.5312" stop-color="#63ff94"/><stop offset="0.5625" stop-color="#49ffad"/><stop offset="0.5938" stop-color="#30ffc7"/><stop offset="0.6250" stop-color="#16ffe1"/><stop offset="0.6562" stop-color="#00e0fb"/><stop offset="0.6875" stop-color="#00c0ff"/><stop offset="0.7188" stop-color="#00a0ff"/><stop offset="0.7500" stop-color="#0080ff"/><stop offset="0.7812" stop-color="#0060ff"/><stop offset="0.8125" stop-color="#0040ff"/><stop offset="0.8438" stop-color="#0020ff"/><stop offset="0.8750" stop-color="#0000ff"/><stop offset="0.9062" stop-color="#0000ed"/><stop offset="0.9375" stop-color="#0000c8"/><stop offset="0.9688" stop-color="#0000a4"/><stop offset="1.0000" stop-color="#000080"/></linearGradient></defs><rect x="769.2" y="51.8" width="9.4" height="164.2" fill="url(#jet1)" stroke="#000" stroke-width="1.1"/><line x1="778.6" x2="783.5" y1="52.0" y2="52.0" stroke="#000" stroke-width="1.1"/><text x="790.2" y="58.7" font-family="DejaVu Sans, Liberation Sans, sans-serif" stroke="#000" stroke-width="0.3" font-size="16.67">10<tspan dy="-5.9" font-size="11.67">8</tspan></text><line x1="778.6" x2="783.5" y1="117.6" y2="117.6" stroke="#000" stroke-width="1.1"/><text x="790.2" y="124.3" font-family="DejaVu Sans, Liberation Sans, sans-serif" stroke="#000" stroke-width="0.3" font-size="16.67">10<tspan dy="-5.9" font-size="11.67">6</tspan></text><line x1="778.6" x2="783.5" y1="183.2" y2="183.2" stroke="#000" stroke-width="1.1"/><text x="790.2" y="189.89999999999998" font-family="DejaVu Sans, Liberation Sans, sans-serif" stroke="#000" stroke-width="0.3" font-size="16.67">10<tspan dy="-5.9" font-size="11.67">4</tspan></text><text transform="translate(838,134.9) rotate(-90)" text-anchor="middle" font-family="DejaVu Sans, Liberation Sans, sans-serif" stroke="#000" stroke-width="0.3" font-size="16.67">Energy Flux</text>
<g shape-rendering="crispEdges"><rect x="201" y="249" width="7" height="8" fill="#0018ff"/>
<rect x="289" y="249" width="7" height="8" fill="#0018ff"/>
<rect x="333" y="249" width="7" height="8" fill="#0018ff"/>
<rect x="359" y="249" width="6" height="8" fill="#0060ff"/>
<rect x="439" y="249" width="6" height="8" fill="#0018ff"/>
<rect x="532" y="249" width="6" height="8" fill="#0018ff"/>
<rect x="550" y="249" width="6" height="8" fill="#0018ff"/>
<rect x="573" y="249" width="6" height="8" fill="#0018ff"/>
<rect x="614" y="249" width="6" height="8" fill="#0060ff"/>
<rect x="626" y="249" width="6" height="8" fill="#0018ff"/>
<rect x="714" y="249" width="6" height="8" fill="#0018ff"/>
<rect x="289" y="257" width="7" height="9" fill="#0018ff"/>
<rect x="308" y="257" width="7" height="9" fill="#0018ff"/>
<rect x="359" y="257" width="6" height="9" fill="#0018ff"/>
<rect x="421" y="257" width="6" height="9" fill="#0018ff"/>
<rect x="439" y="257" width="6" height="9" fill="#0018ff"/>
<rect x="486" y="257" width="6" height="9" fill="#0018ff"/>
<rect x="573" y="257" width="6" height="9" fill="#0018ff"/>
<rect x="308" y="266" width="7" height="9" fill="#0018ff"/>
<rect x="421" y="266" width="6" height="9" fill="#0018ff"/>
<rect x="486" y="266" width="6" height="9" fill="#0018ff"/>
<rect x="503" y="266" width="6" height="9" fill="#0018ff"/>
<rect x="673" y="266" width="6" height="9" fill="#0018ff"/>
<rect x="201" y="275" width="7" height="8" fill="#0000e8"/>
<rect x="308" y="275" width="7" height="8" fill="#0018ff"/>
<rect x="486" y="275" width="6" height="8" fill="#0018ff"/>
<rect x="503" y="275" width="6" height="8" fill="#0018ff"/>
<rect x="620" y="275" width="6" height="8" fill="#0018ff"/>
<rect x="673" y="275" width="6" height="8" fill="#0018ff"/>
<rect x="201" y="283" width="7" height="9" fill="#0000e8"/>
<rect x="503" y="283" width="6" height="9" fill="#0060ff"/>
<rect x="597" y="283" width="6" height="9" fill="#0000e8"/>
<rect x="620" y="283" width="6" height="9" fill="#0018ff"/>
<rect x="673" y="283" width="6" height="9" fill="#0018ff"/>
<rect x="308" y="292" width="7" height="9" fill="#0000e8"/>
<rect x="503" y="292" width="6" height="9" fill="#0000e8"/>
<rect x="597" y="292" width="6" height="9" fill="#0000e8"/>
<rect x="227" y="301" width="6" height="8" fill="#0000e8"/>
<rect x="308" y="301" width="7" height="8" fill="#0000e8"/>
<rect x="346" y="301" width="6" height="8" fill="#0000e8"/>
<rect x="359" y="301" width="6" height="8" fill="#0000e8"/>
<rect x="365" y="301" width="6" height="8" fill="#0018ff"/>
<rect x="503" y="301" width="6" height="8" fill="#0000e8"/>
<rect x="597" y="301" width="6" height="8" fill="#0000e8"/>
<rect x="170" y="309" width="6" height="9" fill="#0018ff"/>
<rect x="227" y="309" width="6" height="9" fill="#0000e8"/>
<rect x="296" y="309" width="6" height="9" fill="#0000e8"/>
<rect x="333" y="309" width="7" height="9" fill="#0000e8"/>
<rect x="340" y="309" width="19" height="9" fill="#0018ff"/>
<rect x="359" y="309" width="12" height="9" fill="#0000e8"/>
<rect x="403" y="309" width="6" height="9" fill="#0000e8"/>
<rect x="433" y="309" width="6" height="9" fill="#0000e8"/>
<rect x="626" y="309" width="6" height="9" fill="#0000e8"/>
<rect x="655" y="309" width="6" height="9" fill="#0060ff"/>
<rect x="673" y="309" width="6" height="9" fill="#0000e8"/>
<rect x="170" y="318" width="6" height="9" fill="#0000e8"/>
<rect x="283" y="318" width="6" height="9" fill="#0000e8"/>
<rect x="296" y="318" width="12" height="9" fill="#0000e8"/>
<rect x="321" y="318" width="6" height="9" fill="#0000e8"/>
<rect x="333" y="318" width="7" height="9" fill="#0060ff"/>
<rect x="340" y="318" width="6" height="9" fill="#0000e8"/>
<rect x="346" y="318" width="6" height="9" fill="#0060ff"/>
<rect x="352" y="318" width="7" height="9" fill="#0000e8"/>
<rect x="359" y="318" width="6" height="9" fill="#0018ff"/>
<rect x="365" y="318" width="6" height="9" fill="#eeff09"/>
<rect x="390" y="318" width="6" height="9" fill="#0000e8"/>
<rect x="403" y="318" width="6" height="9" fill="#0000e8"/>
<rect x="433" y="318" width="6" height="9" fill="#0000e8"/>
<rect x="474" y="318" width="6" height="9" fill="#0000e8"/>
<rect x="591" y="318" width="6" height="9" fill="#0000e8"/>
<rect x="626" y="318" width="6" height="9" fill="#0000e8"/>
<rect x="650" y="318" width="11" height="9" fill="#0000e8"/>
<rect x="673" y="318" width="6" height="9" fill="#0060ff"/>
<rect x="679" y="318" width="17" height="9" fill="#0000e8"/>
<rect x="702" y="318" width="6" height="9" fill="#0000e8"/>
<rect x="720" y="318" width="6" height="9" fill="#0000e8"/>
<rect x="195" y="327" width="6" height="8" fill="#0018ff"/>
<rect x="258" y="327" width="6" height="8" fill="#0000e8"/>
<rect x="283" y="327" width="6" height="8" fill="#00dcfe"/>
<rect x="289" y="327" width="7" height="8" fill="#0060ff"/>
<rect x="296" y="327" width="6" height="8" fill="#0018ff"/>
<rect x="302" y="327" width="6" height="8" fill="#0000e8"/>
<rect x="308" y="327" width="7" height="8" fill="#0060ff"/>
<rect x="315" y="327" width="6" height="8" fill="#0018ff"/>
<rect x="321" y="327" width="12" height="8" fill="#0060ff"/>
<rect x="333" y="327" width="7" height="8" fill="#29ffce"/>
<rect x="340" y="327" width="6" height="8" fill="#009cff"/>
<rect x="346" y="327" width="19" height="8" fill="#0060ff"/>
<rect x="365" y="327" width="6" height="8" fill="#ceff29"/>
<rect x="371" y="327" width="6" height="8" fill="#009cff"/>
<rect x="377" y="327" width="7" height="8" fill="#0060ff"/>
<rect x="384" y="327" width="12" height="8" fill="#00dcfe"/>
<rect x="396" y="327" width="13" height="8" fill="#0060ff"/>
<rect x="409" y="327" width="6" height="8" fill="#0018ff"/>
<rect x="421" y="327" width="6" height="8" fill="#0018ff"/>
<rect x="433" y="327" width="6" height="8" fill="#0018ff"/>
<rect x="445" y="327" width="11" height="8" fill="#0018ff"/>
<rect x="456" y="327" width="12" height="8" fill="#0000e8"/>
<rect x="468" y="327" width="18" height="8" fill="#0018ff"/>
<rect x="486" y="327" width="6" height="8" fill="#0000e8"/>
<rect x="492" y="327" width="5" height="8" fill="#0060ff"/>
<rect x="497" y="327" width="6" height="8" fill="#0018ff"/>
<rect x="503" y="327" width="6" height="8" fill="#0060ff"/>
<rect x="509" y="327" width="12" height="8" fill="#0000e8"/>
<rect x="521" y="327" width="11" height="8" fill="#0018ff"/>
<rect x="532" y="327" width="6" height="8" fill="#0000e8"/>
<rect x="538" y="327" width="6" height="8" fill="#0060ff"/>
<rect x="544" y="327" width="6" height="8" fill="#0018ff"/>
<rect x="568" y="327" width="17" height="8" fill="#0018ff"/>
<rect x="591" y="327" width="6" height="8" fill="#0000e8"/>
<rect x="597" y="327" width="6" height="8" fill="#0018ff"/>
<rect x="614" y="327" width="6" height="8" fill="#0018ff"/>
<rect x="626" y="327" width="12" height="8" fill="#0000e8"/>
<rect x="644" y="327" width="6" height="8" fill="#0018ff"/>
<rect x="650" y="327" width="5" height="8" fill="#0000e8"/>
<rect x="661" y="327" width="6" height="8" fill="#0018ff"/>
<rect x="667" y="327" width="6" height="8" fill="#0060ff"/>
<rect x="673" y="327" width="6" height="8" fill="#0018ff"/>
<rect x="679" y="327" width="6" height="8" fill="#0060ff"/>
<rect x="685" y="327" width="17" height="8" fill="#0000e8"/>
<rect x="702" y="327" width="12" height="8" fill="#0018ff"/>
<rect x="720" y="327" width="6" height="8" fill="#0000e8"/>
<rect x="195" y="335" width="6" height="9" fill="#0000e8"/>
<rect x="258" y="335" width="6" height="9" fill="#0000e8"/>
<rect x="271" y="335" width="6" height="9" fill="#0000e8"/>
<rect x="283" y="335" width="6" height="9" fill="#8dff6a"/>
<rect x="289" y="335" width="7" height="9" fill="#49ffad"/>
<rect x="296" y="335" width="6" height="9" fill="#009cff"/>
<rect x="302" y="335" width="6" height="9" fill="#0060ff"/>
<rect x="308" y="335" width="25" height="9" fill="#00dcfe"/>
<rect x="333" y="335" width="7" height="9" fill="#ceff29"/>
<rect x="340" y="335" width="12" height="9" fill="#29ffce"/>
<rect x="352" y="335" width="7" height="9" fill="#6aff8d"/>
<rect x="359" y="335" width="6" height="9" fill="#29ffce"/>
<rect x="365" y="335" width="6" height="9" fill="#ffd700"/>
<rect x="371" y="335" width="6" height="9" fill="#29ffce"/>
<rect x="377" y="335" width="7" height="9" fill="#00dcfe"/>
<rect x="384" y="335" width="6" height="9" fill="#29ffce"/>
<rect x="390" y="335" width="6" height="9" fill="#8dff6a"/>
<rect x="396" y="335" width="7" height="9" fill="#29ffce"/>
<rect x="403" y="335" width="12" height="9" fill="#00dcfe"/>
<rect x="415" y="335" width="12" height="9" fill="#009cff"/>
<rect x="427" y="335" width="6" height="9" fill="#0060ff"/>
<rect x="433" y="335" width="18" height="9" fill="#009cff"/>
<rect x="451" y="335" width="5" height="9" fill="#0060ff"/>
<rect x="456" y="335" width="24" height="9" fill="#009cff"/>
<rect x="480" y="335" width="6" height="9" fill="#0060ff"/>
<rect x="486" y="335" width="6" height="9" fill="#00dcfe"/>
<rect x="492" y="335" width="5" height="9" fill="#009cff"/>
<rect x="497" y="335" width="6" height="9" fill="#0060ff"/>
<rect x="503" y="335" width="6" height="9" fill="#009cff"/>
<rect x="509" y="335" width="6" height="9" fill="#0060ff"/>
<rect x="515" y="335" width="6" height="9" fill="#009cff"/>
<rect x="521" y="335" width="6" height="9" fill="#0060ff"/>
<rect x="527" y="335" width="5" height="9" fill="#009cff"/>
<rect x="532" y="335" width="6" height="9" fill="#0060ff"/>
<rect x="538" y="335" width="12" height="9" fill="#009cff"/>
<rect x="550" y="335" width="6" height="9" fill="#00dcfe"/>
<rect x="556" y="335" width="6" height="9" fill="#0018ff"/>
<rect x="562" y="335" width="11" height="9" fill="#0060ff"/>
<rect x="573" y="335" width="6" height="9" fill="#00dcfe"/>
<rect x="579" y="335" width="12" height="9" fill="#009cff"/>
<rect x="591" y="335" width="35" height="9" fill="#0060ff"/>
<rect x="626" y="335" width="6" height="9" fill="#009cff"/>
<rect x="632" y="335" width="6" height="9" fill="#0060ff"/>
<rect x="638" y="335" width="6" height="9" fill="#009cff"/>
<rect x="644" y="335" width="6" height="9" fill="#0060ff"/>
<rect x="650" y="335" width="5" height="9" fill="#009cff"/>
<rect x="655" y="335" width="12" height="9" fill="#0060ff"/>
<rect x="667" y="335" width="6" height="9" fill="#0018ff"/>
<rect x="673" y="335" width="6" height="9" fill="#0060ff"/>
<rect x="679" y="335" width="6" height="9" fill="#009cff"/>
<rect x="685" y="335" width="11" height="9" fill="#0060ff"/>
<rect x="696" y="335" width="6" height="9" fill="#009cff"/>
<rect x="702" y="335" width="6" height="9" fill="#0060ff"/>
<rect x="708" y="335" width="6" height="9" fill="#009cff"/>
<rect x="714" y="335" width="6" height="9" fill="#0018ff"/>
<rect x="720" y="335" width="6" height="9" fill="#009cff"/>
<rect x="726" y="335" width="5" height="9" fill="#0060ff"/>
<rect x="132" y="344" width="7" height="9" fill="#0018ff"/>
<rect x="145" y="344" width="6" height="9" fill="#0000e8"/>
<rect x="157" y="344" width="7" height="9" fill="#0000e8"/>
<rect x="183" y="344" width="12" height="9" fill="#0000e8"/>
<rect x="208" y="344" width="6" height="9" fill="#0000e8"/>
<rect x="214" y="344" width="6" height="9" fill="#0018ff"/>
<rect x="220" y="344" width="7" height="9" fill="#0000e8"/>
<rect x="239" y="344" width="13" height="9" fill="#0000e8"/>
<rect x="252" y="344" width="6" height="9" fill="#0018ff"/>
<rect x="258" y="344" width="6" height="9" fill="#0000e8"/>
<rect x="271" y="344" width="6" height="9" fill="#0060ff"/>
<rect x="277" y="344" width="6" height="9" fill="#0000e8"/>
<rect x="283" y="344" width="6" height="9" fill="#adff49"/>
<rect x="289" y="344" width="7" height="9" fill="#6aff8d"/>
<rect x="296" y="344" width="6" height="9" fill="#00dcfe"/>
<rect x="302" y="344" width="6" height="9" fill="#29ffce"/>
<rect x="308" y="344" width="7" height="9" fill="#00dcfe"/>
<rect x="315" y="344" width="18" height="9" fill="#29ffce"/>
<rect x="333" y="344" width="7" height="9" fill="#ff7a00"/>
<rect x="340" y="344" width="6" height="9" fill="#eeff09"/>
<rect x="346" y="344" width="6" height="9" fill="#ceff29"/>
<rect x="352" y="344" width="7" height="9" fill="#ffb200"/>
<rect x="359" y="344" width="6" height="9" fill="#ffd700"/>
<rect x="365" y="344" width="6" height="9" fill="#ff7a00"/>
<rect x="371" y="344" width="6" height="9" fill="#49ffad"/>
<rect x="377" y="344" width="7" height="9" fill="#6aff8d"/>
<rect x="384" y="344" width="6" height="9" fill="#8dff6a"/>
<rect x="390" y="344" width="6" height="9" fill="#ceff29"/>
<rect x="396" y="344" width="13" height="9" fill="#49ffad"/>
<rect x="409" y="344" width="36" height="9" fill="#29ffce"/>
<rect x="445" y="344" width="11" height="9" fill="#00dcfe"/>
<rect x="456" y="344" width="18" height="9" fill="#29ffce"/>
<rect x="474" y="344" width="6" height="9" fill="#009cff"/>
<rect x="480" y="344" width="6" height="9" fill="#00dcfe"/>
<rect x="486" y="344" width="29" height="9" fill="#29ffce"/>
<rect x="515" y="344" width="6" height="9" fill="#00dcfe"/>
<rect x="521" y="344" width="29" height="9" fill="#29ffce"/>
<rect x="550" y="344" width="12" height="9" fill="#00dcfe"/>
<rect x="562" y="344" width="6" height="9" fill="#29ffce"/>
<rect x="568" y="344" width="5" height="9" fill="#00dcfe"/>
<rect x="573" y="344" width="6" height="9" fill="#29ffce"/>
<rect x="579" y="344" width="6" height="9" fill="#00dcfe"/>
<rect x="585" y="344" width="6" height="9" fill="#29ffce"/>
<rect x="591" y="344" width="29" height="9" fill="#00dcfe"/>
<rect x="620" y="344" width="6" height="9" fill="#29ffce"/>
<rect x="626" y="344" width="6" height="9" fill="#009cff"/>
<rect x="632" y="344" width="18" height="9" fill="#00dcfe"/>
<rect x="650" y="344" width="5" height="9" fill="#009cff"/>
<rect x="655" y="344" width="6" height="9" fill="#29ffce"/>
<rect x="661" y="344" width="18" height="9" fill="#00dcfe"/>
<rect x="679" y="344" width="41" height="9" fill="#29ffce"/>
<rect x="720" y="344" width="11" height="9" fill="#00dcfe"/>
<rect x="132" y="353" width="7" height="8" fill="#0060ff"/>
<rect x="139" y="353" width="12" height="8" fill="#0000e8"/>
<rect x="157" y="353" width="19" height="8" fill="#0018ff"/>
<rect x="183" y="353" width="12" height="8" fill="#0000e8"/>
<rect x="195" y="353" width="6" height="8" fill="#0018ff"/>
<rect x="201" y="353" width="7" height="8" fill="#0060ff"/>
<rect x="208" y="353" width="6" height="8" fill="#0018ff"/>
<rect x="214" y="353" width="13" height="8" fill="#0060ff"/>
<rect x="227" y="353" width="18" height="8" fill="#0000e8"/>
<rect x="245" y="353" width="7" height="8" fill="#0018ff"/>
<rect x="252" y="353" width="19" height="8" fill="#0060ff"/>
<rect x="271" y="353" width="12" height="8" fill="#0018ff"/>
<rect x="283" y="353" width="6" height="8" fill="#ceff29"/>
<rect x="289" y="353" width="7" height="8" fill="#8dff6a"/>
<rect x="296" y="353" width="19" height="8" fill="#6aff8d"/>
<rect x="315" y="353" width="18" height="8" fill="#8dff6a"/>
<rect x="333" y="353" width="13" height="8" fill="#ff7a00"/>
<rect x="346" y="353" width="6" height="8" fill="#ffb200"/>
<rect x="352" y="353" width="7" height="8" fill="#ff7a00"/>
<rect x="359" y="353" width="6" height="8" fill="#da0000"/>
<rect x="365" y="353" width="6" height="8" fill="#ff1a00"/>
<rect x="371" y="353" width="6" height="8" fill="#adff49"/>
<rect x="377" y="353" width="7" height="8" fill="#eeff09"/>
<rect x="384" y="353" width="6" height="8" fill="#ff7a00"/>
<rect x="390" y="353" width="6" height="8" fill="#ff1a00"/>
<rect x="396" y="353" width="7" height="8" fill="#ceff29"/>
<rect x="403" y="353" width="12" height="8" fill="#8dff6a"/>
<rect x="415" y="353" width="12" height="8" fill="#6aff8d"/>
<rect x="427" y="353" width="6" height="8" fill="#8dff6a"/>
<rect x="433" y="353" width="18" height="8" fill="#6aff8d"/>
<rect x="451" y="353" width="11" height="8" fill="#49ffad"/>
<rect x="462" y="353" width="12" height="8" fill="#6aff8d"/>
<rect x="474" y="353" width="152" height="8" fill="#49ffad"/>
<rect x="626" y="353" width="6" height="8" fill="#29ffce"/>
<rect x="632" y="353" width="82" height="8" fill="#49ffad"/>
<rect x="714" y="353" width="6" height="8" fill="#29ffce"/>
<rect x="720" y="353" width="11" height="8" fill="#49ffad"/>
<rect x="132" y="361" width="7" height="9" fill="#0000e8"/>
<rect x="139" y="361" width="6" height="9" fill="#0018ff"/>
<rect x="145" y="361" width="6" height="9" fill="#0060ff"/>
<rect x="151" y="361" width="6" height="9" fill="#0018ff"/>
<rect x="157" y="361" width="7" height="9" fill="#0060ff"/>
<rect x="164" y="361" width="6" height="9" fill="#0000e8"/>
<rect x="170" y="361" width="6" height="9" fill="#009cff"/>
<rect x="183" y="361" width="18" height="9" fill="#0060ff"/>
<rect x="201" y="361" width="7" height="9" fill="#0000e8"/>
<rect x="208" y="361" width="6" height="9" fill="#0018ff"/>
<rect x="214" y="361" width="6" height="9" fill="#0060ff"/>
<rect x="220" y="361" width="13" height="9" fill="#009cff"/>
<rect x="233" y="361" width="12" height="9" fill="#0000e8"/>
<rect x="245" y="361" width="7" height="9" fill="#0060ff"/>
<rect x="252" y="361" width="6" height="9" fill="#0018ff"/>
<rect x="258" y="361" width="6" height="9" fill="#009cff"/>
<rect x="264" y="361" width="7" height="9" fill="#0018ff"/>
<rect x="271" y="361" width="6" height="9" fill="#29ffce"/>
<rect x="277" y="361" width="6" height="9" fill="#0018ff"/>
<rect x="283" y="361" width="6" height="9" fill="#ffd700"/>
<rect x="289" y="361" width="7" height="9" fill="#00dcfe"/>
<rect x="296" y="361" width="37" height="9" fill="#adff49"/>
<rect x="333" y="361" width="13" height="9" fill="#f10800"/>
<rect x="346" y="361" width="6" height="9" fill="#ff6000"/>
<rect x="352" y="361" width="7" height="9" fill="#da0000"/>
<rect x="359" y="361" width="6" height="9" fill="#9b0000"/>
<rect x="365" y="361" width="6" height="9" fill="#da0000"/>
<rect x="371" y="361" width="6" height="9" fill="#eeff09"/>
<rect x="377" y="361" width="7" height="9" fill="#ff7a00"/>
<rect x="384" y="361" width="6" height="9" fill="#ff1a00"/>
<rect x="390" y="361" width="6" height="9" fill="#9b0000"/>
<rect x="396" y="361" width="7" height="9" fill="#ffd700"/>
<rect x="403" y="361" width="6" height="9" fill="#eeff09"/>
<rect x="409" y="361" width="30" height="9" fill="#ceff29"/>
<rect x="439" y="361" width="35" height="9" fill="#adff49"/>
<rect x="474" y="361" width="12" height="9" fill="#8dff6a"/>
<rect x="486" y="361" width="245" height="9" fill="#6aff8d"/>
<rect x="132" y="370" width="7" height="9" fill="#0018ff"/>
<rect x="139" y="370" width="25" height="9" fill="#0060ff"/>
<rect x="164" y="370" width="6" height="9" fill="#0018ff"/>
<rect x="170" y="370" width="6" height="9" fill="#0060ff"/>
<rect x="183" y="370" width="12" height="9" fill="#009cff"/>
<rect x="195" y="370" width="6" height="9" fill="#0060ff"/>
<rect x="201" y="370" width="7" height="9" fill="#009cff"/>
<rect x="208" y="370" width="6" height="9" fill="#0060ff"/>
<rect x="214" y="370" width="13" height="9" fill="#00dcfe"/>
<rect x="227" y="370" width="6" height="9" fill="#49ffad"/>
<rect x="233" y="370" width="6" height="9" fill="#0060ff"/>
<rect x="239" y="370" width="6" height="9" fill="#00dcfe"/>
<rect x="245" y="370" width="7" height="9" fill="#0060ff"/>
<rect x="252" y="370" width="12" height="9" fill="#49ffad"/>
<rect x="264" y="370" width="7" height="9" fill="#29ffce"/>
<rect x="271" y="370" width="12" height="9" fill="#49ffad"/>
<rect x="283" y="370" width="6" height="9" fill="#eeff09"/>
<rect x="289" y="370" width="44" height="9" fill="#ceff29"/>
<rect x="333" y="370" width="7" height="9" fill="#f10800"/>
<rect x="340" y="370" width="6" height="9" fill="#da0000"/>
<rect x="346" y="370" width="19" height="9" fill="#9b0000"/>
<rect x="365" y="370" width="6" height="9" fill="#da0000"/>
<rect x="371" y="370" width="6" height="9" fill="#ffb200"/>
<rect x="377" y="370" width="7" height="9" fill="#ff7a00"/>
<rect x="384" y="370" width="6" height="9" fill="#ff1a00"/>
<rect x="390" y="370" width="6" height="9" fill="#9b0000"/>
<rect x="396" y="370" width="7" height="9" fill="#ff7a00"/>
<rect x="403" y="370" width="6" height="9" fill="#ffb200"/>
<rect x="409" y="370" width="6" height="9" fill="#eeff09"/>
<rect x="415" y="370" width="12" height="9" fill="#ffd700"/>
<rect x="427" y="370" width="18" height="9" fill="#eeff09"/>
<rect x="445" y="370" width="17" height="9" fill="#ceff29"/>
<rect x="462" y="370" width="12" height="9" fill="#eeff09"/>
<rect x="474" y="370" width="6" height="9" fill="#ceff29"/>
<rect x="480" y="370" width="6" height="9" fill="#adff49"/>
<rect x="486" y="370" width="6" height="9" fill="#9dff5a"/>
<rect x="492" y="370" width="5" height="9" fill="#7dff7a"/>
<rect x="497" y="370" width="18" height="9" fill="#9dff5a"/>
<rect x="515" y="370" width="17" height="9" fill="#7dff7a"/>
<rect x="532" y="370" width="12" height="9" fill="#9dff5a"/>
<rect x="544" y="370" width="35" height="9" fill="#7dff7a"/>
<rect x="579" y="370" width="6" height="9" fill="#ceff29"/>
<rect x="585" y="370" width="29" height="9" fill="#7dff7a"/>
<rect x="614" y="370" width="18" height="9" fill="#6aff8d"/>
<rect x="632" y="370" width="53" height="9" fill="#7dff7a"/>
<rect x="685" y="370" width="11" height="9" fill="#9dff5a"/>
<rect x="696" y="370" width="35" height="9" fill="#7dff7a"/>
<rect x="132" y="379" width="13" height="8" fill="#0060ff"/>
<rect x="145" y="379" width="31" height="8" fill="#009cff"/>
<rect x="183" y="379" width="6" height="8" fill="#009cff"/>
<rect x="189" y="379" width="12" height="8" fill="#00dcfe"/>
<rect x="201" y="379" width="7" height="8" fill="#29ffce"/>
<rect x="208" y="379" width="12" height="8" fill="#00dcfe"/>
<rect x="220" y="379" width="7" height="8" fill="#29ffce"/>
<rect x="227" y="379" width="6" height="8" fill="#8dff6a"/>
<rect x="233" y="379" width="19" height="8" fill="#29ffce"/>
<rect x="252" y="379" width="6" height="8" fill="#ff7a00"/>
<rect x="258" y="379" width="6" height="8" fill="#adff49"/>
<rect x="264" y="379" width="19" height="8" fill="#8dff6a"/>
<rect x="283" y="379" width="19" height="8" fill="#eeff09"/>
<rect x="302" y="379" width="6" height="8" fill="#ceff29"/>
<rect x="308" y="379" width="7" height="8" fill="#ffd700"/>
<rect x="315" y="379" width="6" height="8" fill="#eeff09"/>
<rect x="321" y="379" width="6" height="8" fill="#ceff29"/>
<rect x="327" y="379" width="6" height="8" fill="#eeff09"/>
<rect x="333" y="379" width="7" height="8" fill="#da0000"/>
<rect x="340" y="379" width="25" height="8" fill="#9b0000"/>
<rect x="365" y="379" width="6" height="8" fill="#da0000"/>
<rect x="371" y="379" width="19" height="8" fill="#ff1a00"/>
<rect x="390" y="379" width="6" height="8" fill="#9b0000"/>
<rect x="396" y="379" width="7" height="8" fill="#ff1a00"/>
<rect x="403" y="379" width="6" height="8" fill="#ff4a00"/>
<rect x="409" y="379" width="12" height="8" fill="#ff7a00"/>
<rect x="421" y="379" width="6" height="8" fill="#ff4a00"/>
<rect x="427" y="379" width="12" height="8" fill="#ffb200"/>
<rect x="439" y="379" width="6" height="8" fill="#ffd700"/>
<rect x="445" y="379" width="6" height="8" fill="#ffb200"/>
<rect x="451" y="379" width="11" height="8" fill="#eeff09"/>
<rect x="462" y="379" width="12" height="8" fill="#ffb200"/>
<rect x="474" y="379" width="12" height="8" fill="#ceff29"/>
<rect x="486" y="379" width="6" height="8" fill="#9dff5a"/>
<rect x="492" y="379" width="5" height="8" fill="#7dff7a"/>
<rect x="497" y="379" width="18" height="8" fill="#9dff5a"/>
<rect x="515" y="379" width="17" height="8" fill="#7dff7a"/>
<rect x="532" y="379" width="12" height="8" fill="#9dff5a"/>
<rect x="544" y="379" width="35" height="8" fill="#7dff7a"/>
<rect x="579" y="379" width="6" height="8" fill="#eeff09"/>
<rect x="585" y="379" width="47" height="8" fill="#7dff7a"/>
<rect x="632" y="379" width="23" height="8" fill="#9dff5a"/>
<rect x="655" y="379" width="30" height="8" fill="#7dff7a"/>
<rect x="685" y="379" width="11" height="8" fill="#9dff5a"/>
<rect x="696" y="379" width="35" height="8" fill="#7dff7a"/>
<rect x="132" y="387" width="13" height="9" fill="#0060ff"/>
<rect x="145" y="387" width="6" height="9" fill="#0018ff"/>
<rect x="151" y="387" width="25" height="9" fill="#00dcfe"/>
<rect x="176" y="387" width="7" height="9" fill="#0060ff"/>
<rect x="183" y="387" width="12" height="9" fill="#49ffad"/>
<rect x="195" y="387" width="6" height="9" fill="#29ffce"/>
<rect x="201" y="387" width="7" height="9" fill="#49ffad"/>
<rect x="208" y="387" width="12" height="9" fill="#6aff8d"/>
<rect x="220" y="387" width="7" height="9" fill="#8dff6a"/>
<rect x="227" y="387" width="6" height="9" fill="#adff49"/>
<rect x="233" y="387" width="12" height="9" fill="#49ffad"/>
<rect x="245" y="387" width="7" height="9" fill="#6aff8d"/>
<rect x="252" y="387" width="6" height="9" fill="#ff7a00"/>
<rect x="258" y="387" width="6" height="9" fill="#ffb200"/>
<rect x="264" y="387" width="13" height="9" fill="#ceff29"/>
<rect x="277" y="387" width="6" height="9" fill="#adff49"/>
<rect x="283" y="387" width="6" height="9" fill="#ceff29"/>
<rect x="289" y="387" width="7" height="9" fill="#eeff09"/>
<rect x="296" y="387" width="12" height="9" fill="#ceff29"/>
<rect x="308" y="387" width="7" height="9" fill="#ffd700"/>
<rect x="315" y="387" width="6" height="9" fill="#eeff09"/>
<rect x="321" y="387" width="6" height="9" fill="#ceff29"/>
<rect x="327" y="387" width="6" height="9" fill="#ffb200"/>
<rect x="333" y="387" width="7" height="9" fill="#ff4a00"/>
<rect x="340" y="387" width="6" height="9" fill="#ff1a00"/>
<rect x="346" y="387" width="6" height="9" fill="#da0000"/>
<rect x="352" y="387" width="7" height="9" fill="#ff1a00"/>
<rect x="359" y="387" width="12" height="9" fill="#9b0000"/>
<rect x="371" y="387" width="6" height="9" fill="#ff1a00"/>
<rect x="377" y="387" width="7" height="9" fill="#ff4a00"/>
<rect x="384" y="387" width="6" height="9" fill="#ff1a00"/>
<rect x="390" y="387" width="6" height="9" fill="#9b0000"/>
<rect x="396" y="387" width="13" height="9" fill="#ff1a00"/>
<rect x="409" y="387" width="6" height="9" fill="#ff4a00"/>
<rect x="415" y="387" width="12" height="9" fill="#ff1a00"/>
<rect x="427" y="387" width="6" height="9" fill="#ff4a00"/>
<rect x="433" y="387" width="6" height="9" fill="#ff7a00"/>
<rect x="439" y="387" width="6" height="9" fill="#ffb200"/>
<rect x="445" y="387" width="6" height="9" fill="#ff7a00"/>
<rect x="451" y="387" width="5" height="9" fill="#ffb200"/>
<rect x="456" y="387" width="6" height="9" fill="#ff7a00"/>
<rect x="462" y="387" width="6" height="9" fill="#ff4a00"/>
<rect x="468" y="387" width="6" height="9" fill="#ff7a00"/>
<rect x="474" y="387" width="12" height="9" fill="#eeff09"/>
<rect x="486" y="387" width="6" height="9" fill="#9dff5a"/>
<rect x="492" y="387" width="11" height="9" fill="#7dff7a"/>
<rect x="503" y="387" width="6" height="9" fill="#9dff5a"/>
<rect x="509" y="387" width="6" height="9" fill="#7dff7a"/>
<rect x="515" y="387" width="6" height="9" fill="#6aff8d"/>
<rect x="521" y="387" width="6" height="9" fill="#7dff7a"/>
<rect x="527" y="387" width="5" height="9" fill="#6aff8d"/>
<rect x="532" y="387" width="41" height="9" fill="#7dff7a"/>
<rect x="573" y="387" width="6" height="9" fill="#6aff8d"/>
<rect x="579" y="387" width="6" height="9" fill="#eeff09"/>
<rect x="585" y="387" width="6" height="9" fill="#7dff7a"/>
<rect x="591" y="387" width="12" height="9" fill="#6aff8d"/>
<rect x="603" y="387" width="11" height="9" fill="#7dff7a"/>
<rect x="614" y="387" width="18" height="9" fill="#6aff8d"/>
<rect x="632" y="387" width="29" height="9" fill="#7dff7a"/>
<rect x="661" y="387" width="24" height="9" fill="#6aff8d"/>
<rect x="685" y="387" width="5" height="9" fill="#9dff5a"/>
<rect x="690" y="387" width="12" height="9" fill="#7dff7a"/>
<rect x="702" y="387" width="6" height="9" fill="#6aff8d"/>
<rect x="708" y="387" width="6" height="9" fill="#7dff7a"/>
<rect x="714" y="387" width="6" height="9" fill="#6aff8d"/>
<rect x="720" y="387" width="6" height="9" fill="#7dff7a"/>
<rect x="726" y="387" width="5" height="9" fill="#6aff8d"/>
<rect x="132" y="396" width="7" height="9" fill="#0060ff"/>
<rect x="139" y="396" width="6" height="9" fill="#009cff"/>
<rect x="145" y="396" width="6" height="9" fill="#00dcfe"/>
<rect x="151" y="396" width="32" height="9" fill="#29ffce"/>
<rect x="183" y="396" width="18" height="9" fill="#6aff8d"/>
<rect x="201" y="396" width="26" height="9" fill="#8dff6a"/>
<rect x="227" y="396" width="6" height="9" fill="#ceff29"/>
<rect x="233" y="396" width="19" height="9" fill="#6aff8d"/>
<rect x="252" y="396" width="6" height="9" fill="#ff1a00"/>
<rect x="258" y="396" width="6" height="9" fill="#eeff09"/>
<rect x="264" y="396" width="7" height="9" fill="#ff7a00"/>
<rect x="271" y="396" width="6" height="9" fill="#adff49"/>
<rect x="277" y="396" width="6" height="9" fill="#8dff6a"/>
<rect x="283" y="396" width="44" height="9" fill="#ceff29"/>
<rect x="327" y="396" width="6" height="9" fill="#ffd700"/>
<rect x="333" y="396" width="7" height="9" fill="#ff4a00"/>
<rect x="340" y="396" width="6" height="9" fill="#ff7a00"/>
<rect x="346" y="396" width="6" height="9" fill="#ff4a00"/>
<rect x="352" y="396" width="7" height="9" fill="#ff1a00"/>
<rect x="359" y="396" width="12" height="9" fill="#da0000"/>
<rect x="371" y="396" width="19" height="9" fill="#ff7a00"/>
<rect x="390" y="396" width="6" height="9" fill="#ff1a00"/>
<rect x="396" y="396" width="55" height="9" fill="#ff7a00"/>
<rect x="451" y="396" width="5" height="9" fill="#ffb200"/>
<rect x="456" y="396" width="18" height="9" fill="#ff7a00"/>
<rect x="474" y="396" width="6" height="9" fill="#eeff09"/>
<rect x="480" y="396" width="6" height="9" fill="#ffd700"/>
<rect x="486" y="396" width="6" height="9" fill="#adff49"/>
<rect x="492" y="396" width="11" height="9" fill="#6aff8d"/>
<rect x="503" y="396" width="12" height="9" fill="#8dff6a"/>
<rect x="515" y="396" width="17" height="9" fill="#6aff8d"/>
<rect x="532" y="396" width="30" height="9" fill="#8dff6a"/>
<rect x="562" y="396" width="6" height="9" fill="#6aff8d"/>
<rect x="568" y="396" width="5" height="9" fill="#49ffad"/>
<rect x="573" y="396" width="6" height="9" fill="#6aff8d"/>
<rect x="579" y="396" width="6" height="9" fill="#ffb200"/>
<rect x="585" y="396" width="18" height="9" fill="#6aff8d"/>
<rect x="603" y="396" width="11" height="9" fill="#8dff6a"/>
<rect x="614" y="396" width="12" height="9" fill="#49ffad"/>
<rect x="626" y="396" width="6" height="9" fill="#adff49"/>
<rect x="632" y="396" width="6" height="9" fill="#8dff6a"/>
<rect x="638" y="396" width="47" height="9" fill="#6aff8d"/>
<rect x="685" y="396" width="5" height="9" fill="#8dff6a"/>
<rect x="690" y="396" width="36" height="9" fill="#49ffad"/>
<rect x="726" y="396" width="5" height="9" fill="#29ffce"/>
<rect x="132" y="405" width="7" height="8" fill="#0018ff"/>
<rect x="139" y="405" width="6" height="8" fill="#009cff"/>
<rect x="145" y="405" width="6" height="8" fill="#0060ff"/>
<rect x="151" y="405" width="6" height="8" fill="#00dcfe"/>
<rect x="157" y="405" width="13" height="8" fill="#009cff"/>
<rect x="170" y="405" width="6" height="8" fill="#00dcfe"/>
<rect x="176" y="405" width="7" height="8" fill="#29ffce"/>
<rect x="183" y="405" width="12" height="8" fill="#00dcfe"/>
<rect x="195" y="405" width="19" height="8" fill="#29ffce"/>
<rect x="214" y="405" width="6" height="8" fill="#00dcfe"/>
<rect x="220" y="405" width="13" height="8" fill="#49ffad"/>
<rect x="233" y="405" width="12" height="8" fill="#29ffce"/>
<rect x="245" y="405" width="7" height="8" fill="#49ffad"/>
<rect x="252" y="405" width="6" height="8" fill="#ffb200"/>
<rect x="258" y="405" width="6" height="8" fill="#8dff6a"/>
<rect x="264" y="405" width="7" height="8" fill="#ffd700"/>
<rect x="271" y="405" width="6" height="8" fill="#8dff6a"/>
<rect x="277" y="405" width="31" height="8" fill="#29ffce"/>
<rect x="308" y="405" width="7" height="8" fill="#6aff8d"/>
<rect x="315" y="405" width="6" height="8" fill="#49ffad"/>
<rect x="321" y="405" width="6" height="8" fill="#29ffce"/>
<rect x="327" y="405" width="6" height="8" fill="#8dff6a"/>
<rect x="333" y="405" width="19" height="8" fill="#ffd700"/>
<rect x="352" y="405" width="7" height="8" fill="#eeff09"/>
<rect x="359" y="405" width="12" height="8" fill="#ff7a00"/>
<rect x="371" y="405" width="6" height="8" fill="#ceff29"/>
<rect x="377" y="405" width="13" height="8" fill="#eeff09"/>
<rect x="390" y="405" width="6" height="8" fill="#ffb200"/>
<rect x="396" y="405" width="13" height="8" fill="#eeff09"/>
<rect x="409" y="405" width="12" height="8" fill="#ceff29"/>
<rect x="421" y="405" width="30" height="8" fill="#eeff09"/>
<rect x="451" y="405" width="5" height="8" fill="#ceff29"/>
<rect x="456" y="405" width="18" height="8" fill="#eeff09"/>
<rect x="474" y="405" width="12" height="8" fill="#8dff6a"/>
<rect x="486" y="405" width="6" height="8" fill="#49ffad"/>
<rect x="492" y="405" width="5" height="8" fill="#29ffce"/>
<rect x="497" y="405" width="12" height="8" fill="#49ffad"/>
<rect x="509" y="405" width="6" height="8" fill="#29ffce"/>
<rect x="515" y="405" width="6" height="8" fill="#00dcfe"/>
<rect x="521" y="405" width="11" height="8" fill="#29ffce"/>
<rect x="532" y="405" width="12" height="8" fill="#49ffad"/>
<rect x="544" y="405" width="18" height="8" fill="#29ffce"/>
<rect x="562" y="405" width="6" height="8" fill="#49ffad"/>
<rect x="568" y="405" width="11" height="8" fill="#29ffce"/>
<rect x="579" y="405" width="6" height="8" fill="#eeff09"/>
<rect x="585" y="405" width="6" height="8" fill="#49ffad"/>
<rect x="591" y="405" width="12" height="8" fill="#00dcfe"/>
<rect x="603" y="405" width="6" height="8" fill="#6aff8d"/>
<rect x="609" y="405" width="5" height="8" fill="#49ffad"/>
<rect x="614" y="405" width="6" height="8" fill="#00dcfe"/>
<rect x="620" y="405" width="6" height="8" fill="#009cff"/>
<rect x="626" y="405" width="12" height="8" fill="#49ffad"/>
<rect x="638" y="405" width="17" height="8" fill="#00dcfe"/>
<rect x="655" y="405" width="6" height="8" fill="#29ffce"/>
<rect x="661" y="405" width="12" height="8" fill="#009cff"/>
<rect x="673" y="405" width="12" height="8" fill="#29ffce"/>
<rect x="685" y="405" width="5" height="8" fill="#6aff8d"/>
<rect x="690" y="405" width="6" height="8" fill="#00dcfe"/>
<rect x="696" y="405" width="6" height="8" fill="#009cff"/>
<rect x="702" y="405" width="12" height="8" fill="#00dcfe"/>
<rect x="714" y="405" width="12" height="8" fill="#009cff"/>
<rect x="726" y="405" width="5" height="8" fill="#00dcfe"/></g>
<rect x="132.3" y="248.6" width="599.2" height="164.70000000000002" fill="none" stroke="#000" stroke-width="1.1"/>
<line x1="162.8" x2="162.8" y1="413.3" y2="418.2" stroke="#000" stroke-width="1.1"/><line x1="272.9" x2="272.9" y1="413.3" y2="418.2" stroke="#000" stroke-width="1.1"/><line x1="382.7" x2="382.7" y1="413.3" y2="418.2" stroke="#000" stroke-width="1.1"/><line x1="492.8" x2="492.8" y1="413.3" y2="418.2" stroke="#000" stroke-width="1.1"/><line x1="602.9" x2="602.9" y1="413.3" y2="418.2" stroke="#000" stroke-width="1.1"/><line x1="712.8" x2="712.8" y1="413.3" y2="418.2" stroke="#000" stroke-width="1.1"/>
<line x1="127.4" x2="132.3" y1="277.6" y2="277.6" stroke="#000" stroke-width="1.1"/><text x="120.4" y="284.1" text-anchor="end" font-family="DejaVu Sans, Liberation Sans, sans-serif" stroke="#000" stroke-width="0.3" font-size="16.67">10.0 keV</text><line x1="127.4" x2="132.3" y1="329.5" y2="329.5" stroke="#000" stroke-width="1.1"/><text x="120.4" y="336.0" text-anchor="end" font-family="DejaVu Sans, Liberation Sans, sans-serif" stroke="#000" stroke-width="0.3" font-size="16.67">1.0 keV</text><line x1="127.4" x2="132.3" y1="381.4" y2="381.4" stroke="#000" stroke-width="1.1"/><text x="120.4" y="387.9" text-anchor="end" font-family="DejaVu Sans, Liberation Sans, sans-serif" stroke="#000" stroke-width="0.3" font-size="16.67">100 eV</text>
<text transform="translate(15.6,332.9) rotate(-90)" text-anchor="middle" font-family="DejaVu Sans, Liberation Sans, sans-serif" stroke="#000" stroke-width="0.3" font-size="16.67">Electrons Energy</text><text transform="translate(37.2,332.9) rotate(-90)" text-anchor="middle" font-family="DejaVu Sans, Liberation Sans, sans-serif" stroke="#000" stroke-width="0.3" font-size="16.67">[eV]</text>
<defs><linearGradient id="jet2" x1="0" y1="0" x2="0" y2="1"><stop offset="0.0000" stop-color="#800000"/><stop offset="0.0312" stop-color="#9f0000"/><stop offset="0.0625" stop-color="#c40000"/><stop offset="0.0938" stop-color="#e80000"/><stop offset="0.1250" stop-color="#ff1e00"/><stop offset="0.1562" stop-color="#ff3b00"/><stop offset="0.1875" stop-color="#ff5900"/><stop offset="0.2188" stop-color="#ff7700"/><stop offset="0.2500" stop-color="#ff9400"/><stop offset="0.2812" stop-color="#ffb200"/><stop offset="0.3125" stop-color="#ffd000"/><stop offset="0.3438" stop-color="#feed00"/><stop offset="0.3750" stop-color="#e4ff13"/><stop offset="0.4062" stop-color="#caff2c"/><stop offset="0.4375" stop-color="#b1ff46"/><stop offset="0.4688" stop-color="#97ff60"/><stop offset="0.5000" stop-color="#7dff7a"/><stop offset="0.5312" stop-color="#63ff94"/><stop offset="0.5625" stop-color="#49ffad"/><stop offset="0.5938" stop-color="#30ffc7"/><stop offset="0.6250" stop-color="#16ffe1"/><stop offset="0.6562" stop-color="#00e0fb"/><stop offset="0.6875" stop-color="#00c0ff"/><stop offset="0.7188" stop-color="#00a0ff"/><stop offset="0.7500" stop-color="#0080ff"/><stop offset="0.7812" stop-color="#0060ff"/><stop offset="0.8125" stop-color="#0040ff"/><stop offset="0.8438" stop-color="#0020ff"/><stop offset="0.8750" stop-color="#0000ff"/><stop offset="0.9062" stop-color="#0000ed"/><stop offset="0.9375" stop-color="#0000c8"/><stop offset="0.9688" stop-color="#0000a4"/><stop offset="1.0000" stop-color="#000080"/></linearGradient></defs><rect x="769.2" y="248.6" width="9.4" height="164.70000000000002" fill="url(#jet2)" stroke="#000" stroke-width="1.1"/><line x1="778.6" x2="783.5" y1="281.6" y2="281.6" stroke="#000" stroke-width="1.1"/><text x="790.2" y="288.3" font-family="DejaVu Sans, Liberation Sans, sans-serif" stroke="#000" stroke-width="0.3" font-size="16.67">10<tspan dy="-5.9" font-size="11.67">9</tspan></text><line x1="778.6" x2="783.5" y1="347.3" y2="347.3" stroke="#000" stroke-width="1.1"/><text x="790.2" y="354.0" font-family="DejaVu Sans, Liberation Sans, sans-serif" stroke="#000" stroke-width="0.3" font-size="16.67">10<tspan dy="-5.9" font-size="11.67">7</tspan></text><line x1="778.6" x2="783.5" y1="413.0" y2="413.0" stroke="#000" stroke-width="1.1"/><text x="790.2" y="419.7" font-family="DejaVu Sans, Liberation Sans, sans-serif" stroke="#000" stroke-width="0.3" font-size="16.67">10<tspan dy="-5.9" font-size="11.67">5</tspan></text><text transform="translate(838,331.95) rotate(-90)" text-anchor="middle" font-family="DejaVu Sans, Liberation Sans, sans-serif" stroke="#000" stroke-width="0.3" font-size="16.67">Energy Flux</text>
<g stroke="#c8c8c8" stroke-width="1.2" stroke-dasharray="5.1 2.2" fill="none"><line x1="162.8" x2="162.8" y1="446.4" y2="610.5"/><line x1="272.9" x2="272.9" y1="446.4" y2="610.5"/><line x1="382.7" x2="382.7" y1="446.4" y2="610.5"/><line x1="492.8" x2="492.8" y1="446.4" y2="610.5"/><line x1="602.9" x2="602.9" y1="446.4" y2="610.5"/><line x1="712.8" x2="712.8" y1="446.4" y2="610.5"/><line x1="132.3" x2="731.5" y1="569.5" y2="569.5"/><line x1="132.3" x2="731.5" y1="528.5" y2="528.5"/><line x1="132.3" x2="731.5" y1="487.4" y2="487.4"/></g>
<g fill="none" stroke-width="2.4" stroke-linejoin="round" stroke-linecap="square"><path d="M354.6 551.5L360.9 508.8L367.2 537.2L373.5 550.6L379.8 575.5L386.1 578.2L392.3 573.7L398.6 583.5L404.9 580.0L411.2 571.9L417.5 573.7L423.8 546.7L429.6 548.8 M447.1 549.7L453.0 551.5L458.9 553.2L464.7 555.0L470.6 587.1" stroke="#440154"/><path d="M354.6 553.5L360.9 512.2L367.2 539.7L373.5 552.6L379.8 576.7L386.1 579.3L392.3 575.0L398.6 584.4L404.9 581.0L411.2 573.3L417.5 575.0L423.8 548.8L429.6 550.9 M447.1 551.8L453.0 553.5L458.9 555.2L464.7 556.9L470.6 587.9" stroke="#453882"/><path d="M354.6 559.4L360.9 522.4L367.2 547.0L373.5 558.6L379.8 580.2L386.1 582.5L392.3 578.7L398.6 587.1L404.9 584.1L411.2 577.1L417.5 578.7L423.8 555.2L429.6 557.1 M447.1 557.8L453.0 559.4L458.9 560.9L464.7 562.5L470.6 590.2" stroke="#31668e"/><path d="M354.6 568.8L360.9 538.6L367.2 558.7L373.5 568.1L379.8 585.8L386.1 587.6L392.3 584.5L398.6 591.4L404.9 588.9L411.2 583.2L417.5 584.5L423.8 565.4L429.6 566.9 M447.1 567.5L453.0 568.8L458.9 570.0L464.7 571.3L470.6 594.0" stroke="#218e8d"/><path d="M354.6 581.0L360.9 559.6L367.2 573.9L373.5 580.6L379.8 593.0L386.1 594.3L392.3 592.1L398.6 597.0L404.9 595.2L411.2 591.2L417.5 592.1L423.8 578.6L429.6 579.6 M447.1 580.1L453.0 581.0L458.9 581.9L464.7 582.8L470.6 598.8" stroke="#31b57b"/><path d="M354.6 595.2L360.9 584.2L367.2 591.5L373.5 595.0L379.8 601.5L386.1 602.1L392.3 601.0L398.6 603.5L404.9 602.6L411.2 600.5L417.5 601.0L423.8 594.0L429.6 594.5 M447.1 594.8L453.0 595.2L458.9 595.7L464.7 596.1L470.6 604.4" stroke="#86d549"/></g>
<rect x="132.3" y="446.4" width="599.2" height="164.10000000000002" fill="none" stroke="#000" stroke-width="1.1"/>
<line x1="162.8" x2="162.8" y1="610.5" y2="615.4" stroke="#000" stroke-width="1.1"/><line x1="272.9" x2="272.9" y1="610.5" y2="615.4" stroke="#000" stroke-width="1.1"/><line x1="382.7" x2="382.7" y1="610.5" y2="615.4" stroke="#000" stroke-width="1.1"/><line x1="492.8" x2="492.8" y1="610.5" y2="615.4" stroke="#000" stroke-width="1.1"/><line x1="602.9" x2="602.9" y1="610.5" y2="615.4" stroke="#000" stroke-width="1.1"/><line x1="712.8" x2="712.8" y1="610.5" y2="615.4" stroke="#000" stroke-width="1.1"/>
<line x1="127.4" x2="132.3" y1="610.5" y2="610.5" stroke="#000" stroke-width="1.1"/><text x="120.4" y="617.0" text-anchor="end" font-family="DejaVu Sans, Liberation Sans, sans-serif" stroke="#000" stroke-width="0.3" font-size="16.67">0.0</text><line x1="127.4" x2="132.3" y1="569.475" y2="569.475" stroke="#000" stroke-width="1.1"/><text x="120.4" y="575.975" text-anchor="end" font-family="DejaVu Sans, Liberation Sans, sans-serif" stroke="#000" stroke-width="0.3" font-size="16.67">0.5</text><line x1="127.4" x2="132.3" y1="528.45" y2="528.45" stroke="#000" stroke-width="1.1"/><text x="120.4" y="534.95" text-anchor="end" font-family="DejaVu Sans, Liberation Sans, sans-serif" stroke="#000" stroke-width="0.3" font-size="16.67">1.0</text><line x1="127.4" x2="132.3" y1="487.42499999999995" y2="487.42499999999995" stroke="#000" stroke-width="1.1"/><text x="120.4" y="493.92499999999995" text-anchor="end" font-family="DejaVu Sans, Liberation Sans, sans-serif" stroke="#000" stroke-width="0.3" font-size="16.67">1.5</text><line x1="127.4" x2="132.3" y1="446.4" y2="446.4" stroke="#000" stroke-width="1.1"/><text x="120.4" y="452.9" text-anchor="end" font-family="DejaVu Sans, Liberation Sans, sans-serif" stroke="#000" stroke-width="0.3" font-size="16.67">2.0</text>
<text transform="translate(65.1,528.6) rotate(-90)" text-anchor="middle" font-family="DejaVu Sans, Liberation Sans, sans-serif" stroke="#000" stroke-width="0.3" font-size="16.67">Reconn. Rate</text><text transform="translate(83.9,530) rotate(-90)" text-anchor="middle" font-family="DejaVu Sans, Liberation Sans, sans-serif" stroke="#000" stroke-width="0.3" font-size="16.67">[mV/m]</text>
<rect x="140.6" y="454.6" width="123" height="157.2" rx="3.3" fill="#fff" fill-opacity="0.8" stroke="#ccc" stroke-width="1.1"/>
<line x1="146.6" x2="182" y1="468.5" y2="468.5" stroke="#440154" stroke-width="2.4"/>
<text x="194.8" y="474.7" font-family="DejaVu Sans, Liberation Sans, sans-serif" stroke="#000" stroke-width="0.3" font-size="16.67"><tspan font-style="italic">α</tspan><tspan dx="3.5">=</tspan><tspan dx="4.0">0</tspan><tspan dx="2.5" dy="-6.8" font-size="11.67">∘</tspan></text>
<line x1="146.6" x2="182" y1="493.9" y2="493.9" stroke="#453882" stroke-width="2.4"/>
<text x="194.8" y="500.1" font-family="DejaVu Sans, Liberation Sans, sans-serif" stroke="#000" stroke-width="0.3" font-size="16.67"><tspan font-style="italic">α</tspan><tspan dx="3.5">=</tspan><tspan dx="4.0">15</tspan><tspan dx="2.5" dy="-6.8" font-size="11.67">∘</tspan></text>
<line x1="146.6" x2="182" y1="519.2" y2="519.2" stroke="#31668e" stroke-width="2.4"/>
<text x="194.8" y="525.4" font-family="DejaVu Sans, Liberation Sans, sans-serif" stroke="#000" stroke-width="0.3" font-size="16.67"><tspan font-style="italic">α</tspan><tspan dx="3.5">=</tspan><tspan dx="4.0">30</tspan><tspan dx="2.5" dy="-6.8" font-size="11.67">∘</tspan></text>
<line x1="146.6" x2="182" y1="544.6" y2="544.6" stroke="#218e8d" stroke-width="2.4"/>
<text x="194.8" y="550.8" font-family="DejaVu Sans, Liberation Sans, sans-serif" stroke="#000" stroke-width="0.3" font-size="16.67"><tspan font-style="italic">α</tspan><tspan dx="3.5">=</tspan><tspan dx="4.0">45</tspan><tspan dx="2.5" dy="-6.8" font-size="11.67">∘</tspan></text>
<line x1="146.6" x2="182" y1="569.9" y2="569.9" stroke="#31b57b" stroke-width="2.4"/>
<text x="194.8" y="576.1" font-family="DejaVu Sans, Liberation Sans, sans-serif" stroke="#000" stroke-width="0.3" font-size="16.67"><tspan font-style="italic">α</tspan><tspan dx="3.5">=</tspan><tspan dx="4.0">60</tspan><tspan dx="2.5" dy="-6.8" font-size="11.67">∘</tspan></text>
<line x1="146.6" x2="182" y1="595.3" y2="595.3" stroke="#86d549" stroke-width="2.4"/>
<text x="194.8" y="601.5" font-family="DejaVu Sans, Liberation Sans, sans-serif" stroke="#000" stroke-width="0.3" font-size="16.67"><tspan font-style="italic">α</tspan><tspan dx="3.5">=</tspan><tspan dx="4.0">75</tspan><tspan dx="2.5" dy="-6.8" font-size="11.67">∘</tspan></text>
<text x="42.5" y="635.3" font-family="DejaVu Sans, Liberation Sans, sans-serif" stroke="#000" stroke-width="0.3" font-size="16.67">MLAT</text>
<text x="42.5" y="651.5" font-family="DejaVu Sans, Liberation Sans, sans-serif" stroke="#000" stroke-width="0.3" font-size="16.67">MLT</text>
<text x="42.5" y="667.7" font-family="DejaVu Sans, Liberation Sans, sans-serif" stroke="#000" stroke-width="0.3" font-size="16.67">Time</text>
<text x="162.8" y="635.3" text-anchor="middle" font-family="DejaVu Sans, Liberation Sans, sans-serif" stroke="#000" stroke-width="0.3" font-size="16.67">62.0</text>
<text x="272.9" y="635.3" text-anchor="middle" font-family="DejaVu Sans, Liberation Sans, sans-serif" stroke="#000" stroke-width="0.3" font-size="16.67">63.0</text>
<text x="382.7" y="635.3" text-anchor="middle" font-family="DejaVu Sans, Liberation Sans, sans-serif" stroke="#000" stroke-width="0.3" font-size="16.67">64.0</text>
<text x="492.8" y="635.3" text-anchor="middle" font-family="DejaVu Sans, Liberation Sans, sans-serif" stroke="#000" stroke-width="0.3" font-size="16.67">65.0</text>
<text x="602.9" y="635.3" text-anchor="middle" font-family="DejaVu Sans, Liberation Sans, sans-serif" stroke="#000" stroke-width="0.3" font-size="16.67">66.0</text>
<text x="712.8" y="635.3" text-anchor="middle" font-family="DejaVu Sans, Liberation Sans, sans-serif" stroke="#000" stroke-width="0.3" font-size="16.67">67.0</text>
<text x="162.8" y="654.9" text-anchor="middle" font-family="DejaVu Sans, Liberation Sans, sans-serif" stroke="#000" stroke-width="0.3" font-size="16.67">14.15</text>
<text x="272.9" y="654.9" text-anchor="middle" font-family="DejaVu Sans, Liberation Sans, sans-serif" stroke="#000" stroke-width="0.3" font-size="16.67">14.07</text>
<text x="382.7" y="654.9" text-anchor="middle" font-family="DejaVu Sans, Liberation Sans, sans-serif" stroke="#000" stroke-width="0.3" font-size="16.67">13.99</text>
<text x="492.8" y="654.9" text-anchor="middle" font-family="DejaVu Sans, Liberation Sans, sans-serif" stroke="#000" stroke-width="0.3" font-size="16.67">13.89</text>
<text x="602.9" y="654.9" text-anchor="middle" font-family="DejaVu Sans, Liberation Sans, sans-serif" stroke="#000" stroke-width="0.3" font-size="16.67">13.78</text>
<text x="712.8" y="654.9" text-anchor="middle" font-family="DejaVu Sans, Liberation Sans, sans-serif" stroke="#000" stroke-width="0.3" font-size="16.67">13.67</text>
<text x="162.8" y="674.4" text-anchor="middle" font-family="DejaVu Sans, Liberation Sans, sans-serif" stroke="#000" stroke-width="0.3" font-size="16.67">Mar24</text>
<text x="272.9" y="674.4" text-anchor="middle" font-family="DejaVu Sans, Liberation Sans, sans-serif" stroke="#000" stroke-width="0.3" font-size="16.67">Mar24</text>
<text x="382.7" y="674.4" text-anchor="middle" font-family="DejaVu Sans, Liberation Sans, sans-serif" stroke="#000" stroke-width="0.3" font-size="16.67">Mar24</text>
<text x="492.8" y="674.4" text-anchor="middle" font-family="DejaVu Sans, Liberation Sans, sans-serif" stroke="#000" stroke-width="0.3" font-size="16.67">Mar24</text>
<text x="602.9" y="674.4" text-anchor="middle" font-family="DejaVu Sans, Liberation Sans, sans-serif" stroke="#000" stroke-width="0.3" font-size="16.67">Mar24</text>
<text x="712.8" y="674.4" text-anchor="middle" font-family="DejaVu Sans, Liberation Sans, sans-serif" stroke="#000" stroke-width="0.3" font-size="16.67">Mar24</text>
<text x="162.8" y="693.9" text-anchor="middle" font-family="DejaVu Sans, Liberation Sans, sans-serif" stroke="#000" stroke-width="0.3" font-size="16.67">05:13:19</text>
<text x="272.9" y="693.9" text-anchor="middle" font-family="DejaVu Sans, Liberation Sans, sans-serif" stroke="#000" stroke-width="0.3" font-size="16.67">05:13:36</text>
<text x="382.7" y="693.9" text-anchor="middle" font-family="DejaVu Sans, Liberation Sans, sans-serif" stroke="#000" stroke-width="0.3" font-size="16.67">05:13:54</text>
<text x="492.8" y="693.9" text-anchor="middle" font-family="DejaVu Sans, Liberation Sans, sans-serif" stroke="#000" stroke-width="0.3" font-size="16.67">05:14:12</text>
<text x="602.9" y="693.9" text-anchor="middle" font-family="DejaVu Sans, Liberation Sans, sans-serif" stroke="#000" stroke-width="0.3" font-size="16.67">05:14:31</text>
<text x="712.8" y="693.9" text-anchor="middle" font-family="DejaVu Sans, Liberation Sans, sans-serif" stroke="#000" stroke-width="0.3" font-size="16.67">05:14:50</text>
</svg>
</body></html>
